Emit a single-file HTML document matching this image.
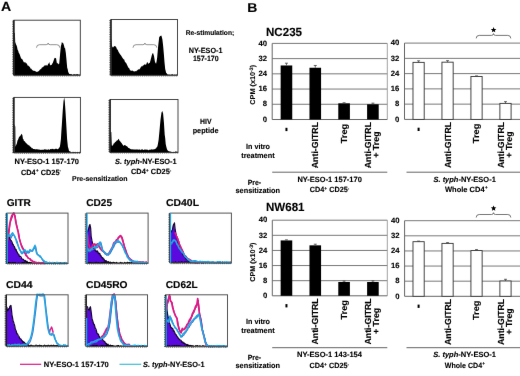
<!DOCTYPE html>
<html><head><meta charset="utf-8"><style>
html,body{margin:0;padding:0;background:#fff;width:520px;height:376px;overflow:hidden}
svg{display:block;will-change:transform;text-rendering:geometricPrecision}
text{font-family:"Liberation Sans", sans-serif;fill:#000;stroke:#000;stroke-width:0.12px}
</style></head><body>
<svg width="520" height="376" viewBox="0 0 520 376">
<defs><filter id="bl" x="0" y="0" width="520" height="376" filterUnits="userSpaceOnUse" color-interpolation-filters="sRGB"><feConvolveMatrix order="3" kernelMatrix="0.0016 0.0371 0.0016 0.0371 0.8450 0.0371 0.0016 0.0371 0.0016" edgeMode="duplicate"/></filter></defs>
<rect width="520" height="376" fill="#fff"/>
<g filter="url(#bl)">
<rect width="520" height="376" fill="#fff"/>
<text x="1.00" y="11.00" font-size="13.2" font-weight="bold" textLength="10.20" lengthAdjust="spacingAndGlyphs" >A</text>
<path d="M14.20,75.30 L14.20,32.72 L14.90,32.94 L15.20,42.14 L15.50,42.72 L16.00,44.51 L16.50,45.29 L17.05,46.89 L17.60,49.71 L18.20,50.71 L18.80,53.09 L19.30,53.61 L19.80,54.75 L20.50,56.68 L21.20,58.72 L21.90,58.65 L22.60,59.86 L23.30,61.20 L24.00,62.42 L24.70,62.17 L25.40,62.23 L26.10,63.86 L26.80,63.07 L27.50,65.42 L28.20,65.58 L28.90,66.13 L29.60,66.87 L30.10,67.61 L30.60,68.75 L31.10,68.40 L31.80,69.60 L32.50,70.36 L33.20,70.41 L33.90,70.95 L34.60,70.80 L35.30,71.16 L36.00,71.46 L36.70,72.07 L37.40,71.68 L38.10,71.42 L38.80,70.99 L39.50,70.15 L40.20,69.26 L40.90,69.17 L41.40,68.59 L41.90,67.52 L42.40,67.50 L43.10,66.69 L43.80,66.48 L44.33,65.99 L44.87,65.03 L45.40,65.87 L46.10,64.84 L46.80,65.67 L47.50,65.51 L48.20,63.84 L48.75,63.53 L49.30,61.96 L49.80,64.17 L50.30,65.52 L51.00,64.87 L51.70,65.00 L52.20,63.40 L52.70,63.31 L53.30,61.40 L53.90,59.63 L54.45,58.23 L55.00,57.64 L55.50,58.31 L56.00,58.06 L56.90,63.26 L57.50,62.85 L58.10,64.42 L58.65,63.79 L59.20,63.79 L59.70,58.57 L60.20,52.76 L60.90,45.92 L61.40,44.62 L61.90,41.84 L62.45,42.89 L63.00,42.77 L63.50,44.09 L64.00,45.39 L64.55,47.93 L65.10,48.31 L65.80,52.70 L66.50,60.03 L67.20,67.73 L67.70,69.15 L68.20,72.05 L68.75,72.89 L69.30,73.91 L69.83,74.03 L70.35,74.23 L70.88,73.96 L71.40,74.24 L71.91,74.23 L72.43,74.64 L72.94,74.72 L73.46,74.16 L73.97,74.21 L74.49,74.28 L75.00,74.31 L75.50,74.47 L76.00,74.52 L76.50,74.27 L77.00,74.06 L77.50,74.34 L78.00,74.28 L78.50,74.41 L79.00,74.67 L79.50,74.46 L80.00,74.31 L80.00,75.30 Z" fill="#000"/>
<rect x="14.00" y="20.20" width="66.30" height="55.10" fill="none" stroke="#333" stroke-width="0.9"/>
<line x1="13.80" y1="20.20" x2="13.80" y2="75.30" stroke="#111" stroke-width="1.3"/>
<line x1="12.20" y1="21.20" x2="14.00" y2="21.20" stroke="#222" stroke-width="0.7"/>
<line x1="12.20" y1="22.95" x2="14.00" y2="22.95" stroke="#222" stroke-width="0.7"/>
<line x1="12.20" y1="24.70" x2="14.00" y2="24.70" stroke="#222" stroke-width="0.7"/>
<line x1="12.20" y1="26.45" x2="14.00" y2="26.45" stroke="#222" stroke-width="0.7"/>
<line x1="12.20" y1="28.20" x2="14.00" y2="28.20" stroke="#222" stroke-width="0.7"/>
<line x1="12.20" y1="29.95" x2="14.00" y2="29.95" stroke="#222" stroke-width="0.7"/>
<line x1="12.20" y1="31.70" x2="14.00" y2="31.70" stroke="#222" stroke-width="0.7"/>
<line x1="12.20" y1="33.45" x2="14.00" y2="33.45" stroke="#222" stroke-width="0.7"/>
<line x1="12.20" y1="35.20" x2="14.00" y2="35.20" stroke="#222" stroke-width="0.7"/>
<line x1="12.20" y1="36.95" x2="14.00" y2="36.95" stroke="#222" stroke-width="0.7"/>
<line x1="12.20" y1="38.70" x2="14.00" y2="38.70" stroke="#222" stroke-width="0.7"/>
<line x1="12.20" y1="40.45" x2="14.00" y2="40.45" stroke="#222" stroke-width="0.7"/>
<line x1="12.20" y1="42.20" x2="14.00" y2="42.20" stroke="#222" stroke-width="0.7"/>
<line x1="12.20" y1="43.95" x2="14.00" y2="43.95" stroke="#222" stroke-width="0.7"/>
<line x1="12.20" y1="45.70" x2="14.00" y2="45.70" stroke="#222" stroke-width="0.7"/>
<line x1="12.20" y1="47.45" x2="14.00" y2="47.45" stroke="#222" stroke-width="0.7"/>
<line x1="12.20" y1="49.20" x2="14.00" y2="49.20" stroke="#222" stroke-width="0.7"/>
<line x1="12.20" y1="50.95" x2="14.00" y2="50.95" stroke="#222" stroke-width="0.7"/>
<line x1="12.20" y1="52.70" x2="14.00" y2="52.70" stroke="#222" stroke-width="0.7"/>
<line x1="12.20" y1="54.45" x2="14.00" y2="54.45" stroke="#222" stroke-width="0.7"/>
<line x1="12.20" y1="56.20" x2="14.00" y2="56.20" stroke="#222" stroke-width="0.7"/>
<line x1="12.20" y1="57.95" x2="14.00" y2="57.95" stroke="#222" stroke-width="0.7"/>
<line x1="12.20" y1="59.70" x2="14.00" y2="59.70" stroke="#222" stroke-width="0.7"/>
<line x1="12.20" y1="61.45" x2="14.00" y2="61.45" stroke="#222" stroke-width="0.7"/>
<line x1="12.20" y1="63.20" x2="14.00" y2="63.20" stroke="#222" stroke-width="0.7"/>
<line x1="12.20" y1="64.95" x2="14.00" y2="64.95" stroke="#222" stroke-width="0.7"/>
<line x1="12.20" y1="66.70" x2="14.00" y2="66.70" stroke="#222" stroke-width="0.7"/>
<line x1="12.20" y1="68.45" x2="14.00" y2="68.45" stroke="#222" stroke-width="0.7"/>
<line x1="12.20" y1="70.20" x2="14.00" y2="70.20" stroke="#222" stroke-width="0.7"/>
<line x1="12.20" y1="71.95" x2="14.00" y2="71.95" stroke="#222" stroke-width="0.7"/>
<line x1="12.20" y1="73.70" x2="14.00" y2="73.70" stroke="#222" stroke-width="0.7"/>
<line x1="15.00" y1="75.30" x2="15.00" y2="76.60" stroke="#333" stroke-width="0.6"/>
<line x1="16.90" y1="75.30" x2="16.90" y2="76.60" stroke="#333" stroke-width="0.6"/>
<line x1="18.80" y1="75.30" x2="18.80" y2="76.60" stroke="#333" stroke-width="0.6"/>
<line x1="20.70" y1="75.30" x2="20.70" y2="76.60" stroke="#333" stroke-width="0.6"/>
<line x1="22.60" y1="75.30" x2="22.60" y2="76.60" stroke="#333" stroke-width="0.6"/>
<line x1="24.50" y1="75.30" x2="24.50" y2="76.60" stroke="#333" stroke-width="0.6"/>
<line x1="26.40" y1="75.30" x2="26.40" y2="76.60" stroke="#333" stroke-width="0.6"/>
<line x1="28.30" y1="75.30" x2="28.30" y2="76.60" stroke="#333" stroke-width="0.6"/>
<line x1="30.20" y1="75.30" x2="30.20" y2="76.60" stroke="#333" stroke-width="0.6"/>
<line x1="32.10" y1="75.30" x2="32.10" y2="76.60" stroke="#333" stroke-width="0.6"/>
<line x1="34.00" y1="75.30" x2="34.00" y2="76.60" stroke="#333" stroke-width="0.6"/>
<line x1="35.90" y1="75.30" x2="35.90" y2="76.60" stroke="#333" stroke-width="0.6"/>
<line x1="37.80" y1="75.30" x2="37.80" y2="76.60" stroke="#333" stroke-width="0.6"/>
<line x1="39.70" y1="75.30" x2="39.70" y2="76.60" stroke="#333" stroke-width="0.6"/>
<line x1="41.60" y1="75.30" x2="41.60" y2="76.60" stroke="#333" stroke-width="0.6"/>
<line x1="43.50" y1="75.30" x2="43.50" y2="76.60" stroke="#333" stroke-width="0.6"/>
<line x1="45.40" y1="75.30" x2="45.40" y2="76.60" stroke="#333" stroke-width="0.6"/>
<line x1="47.30" y1="75.30" x2="47.30" y2="76.60" stroke="#333" stroke-width="0.6"/>
<line x1="49.20" y1="75.30" x2="49.20" y2="76.60" stroke="#333" stroke-width="0.6"/>
<line x1="51.10" y1="75.30" x2="51.10" y2="76.60" stroke="#333" stroke-width="0.6"/>
<line x1="53.00" y1="75.30" x2="53.00" y2="76.60" stroke="#333" stroke-width="0.6"/>
<line x1="54.90" y1="75.30" x2="54.90" y2="76.60" stroke="#333" stroke-width="0.6"/>
<line x1="56.80" y1="75.30" x2="56.80" y2="76.60" stroke="#333" stroke-width="0.6"/>
<line x1="58.70" y1="75.30" x2="58.70" y2="76.60" stroke="#333" stroke-width="0.6"/>
<line x1="60.60" y1="75.30" x2="60.60" y2="76.60" stroke="#333" stroke-width="0.6"/>
<line x1="62.50" y1="75.30" x2="62.50" y2="76.60" stroke="#333" stroke-width="0.6"/>
<line x1="64.40" y1="75.30" x2="64.40" y2="76.60" stroke="#333" stroke-width="0.6"/>
<line x1="66.30" y1="75.30" x2="66.30" y2="76.60" stroke="#333" stroke-width="0.6"/>
<line x1="68.20" y1="75.30" x2="68.20" y2="76.60" stroke="#333" stroke-width="0.6"/>
<line x1="70.10" y1="75.30" x2="70.10" y2="76.60" stroke="#333" stroke-width="0.6"/>
<line x1="72.00" y1="75.30" x2="72.00" y2="76.60" stroke="#333" stroke-width="0.6"/>
<line x1="73.90" y1="75.30" x2="73.90" y2="76.60" stroke="#333" stroke-width="0.6"/>
<line x1="75.80" y1="75.30" x2="75.80" y2="76.60" stroke="#333" stroke-width="0.6"/>
<line x1="77.70" y1="75.30" x2="77.70" y2="76.60" stroke="#333" stroke-width="0.6"/>
<line x1="79.60" y1="75.30" x2="79.60" y2="76.60" stroke="#333" stroke-width="0.6"/>
<path d="M36.50,47.70 Q36.50,44.70 39.50,44.70 L46.15,44.70 Q48.15,44.70 48.15,43.00 Q48.15,44.70 50.15,44.70 L56.80,44.70 Q59.80,44.70 59.80,47.70" fill="none" stroke="#777" stroke-width="0.8"/>
<path d="M111.30,75.30 L111.30,37.89 L112.20,47.78 L112.75,46.44 L113.30,47.44 L113.80,46.55 L114.30,46.00 L114.80,46.23 L115.30,45.93 L115.85,46.99 L116.40,47.57 L117.00,49.46 L117.60,49.60 L118.10,50.66 L118.60,51.93 L119.30,52.96 L120.00,54.34 L120.70,54.93 L121.40,55.90 L122.10,57.19 L122.80,58.16 L123.50,59.28 L124.20,59.44 L124.90,61.85 L125.60,62.48 L126.30,63.14 L127.00,64.70 L127.70,66.27 L128.40,67.72 L129.10,68.12 L129.80,69.72 L130.50,70.57 L131.20,70.66 L131.72,70.86 L132.25,70.62 L132.78,70.81 L133.30,71.24 L133.83,71.16 L134.35,71.73 L134.88,71.06 L135.40,70.92 L135.95,71.59 L136.50,70.88 L137.05,70.19 L137.60,70.35 L138.12,69.33 L138.65,69.48 L139.17,69.62 L139.70,69.07 L140.22,68.34 L140.75,67.22 L141.28,66.83 L141.80,66.01 L142.33,66.45 L142.87,65.62 L143.40,65.55 L144.10,64.63 L144.80,64.26 L145.50,64.70 L146.20,64.48 L146.75,63.06 L147.30,61.79 L147.80,63.01 L148.30,64.08 L149.00,62.91 L149.70,63.03 L150.40,60.67 L151.10,58.05 L151.60,55.94 L152.10,54.25 L153.00,52.71 L153.50,54.51 L154.00,56.03 L154.90,61.52 L155.50,63.00 L156.10,63.78 L156.65,60.93 L157.20,57.18 L157.70,51.30 L158.20,45.66 L158.70,41.41 L159.20,37.23 L159.75,36.60 L160.30,35.74 L160.85,35.89 L161.40,35.57 L161.90,37.59 L162.40,39.58 L163.10,45.44 L163.80,53.36 L164.50,62.26 L165.20,68.96 L165.70,71.02 L166.20,72.88 L166.75,73.34 L167.30,74.51 L167.86,74.22 L168.42,74.60 L168.98,74.76 L169.54,74.38 L170.10,74.43 L170.61,74.82 L171.13,74.66 L171.64,74.26 L172.16,74.23 L172.67,74.25 L173.19,74.79 L173.70,74.72 L174.21,74.25 L174.73,74.73 L175.24,74.84 L175.76,74.61 L176.27,74.39 L176.79,74.53 L177.30,74.24 L177.30,75.30 Z" fill="#000"/>
<rect x="111.10" y="19.50" width="66.40" height="55.80" fill="none" stroke="#333" stroke-width="0.9"/>
<line x1="110.90" y1="19.50" x2="110.90" y2="75.30" stroke="#111" stroke-width="1.3"/>
<line x1="109.30" y1="20.50" x2="111.10" y2="20.50" stroke="#222" stroke-width="0.7"/>
<line x1="109.30" y1="22.25" x2="111.10" y2="22.25" stroke="#222" stroke-width="0.7"/>
<line x1="109.30" y1="24.00" x2="111.10" y2="24.00" stroke="#222" stroke-width="0.7"/>
<line x1="109.30" y1="25.75" x2="111.10" y2="25.75" stroke="#222" stroke-width="0.7"/>
<line x1="109.30" y1="27.50" x2="111.10" y2="27.50" stroke="#222" stroke-width="0.7"/>
<line x1="109.30" y1="29.25" x2="111.10" y2="29.25" stroke="#222" stroke-width="0.7"/>
<line x1="109.30" y1="31.00" x2="111.10" y2="31.00" stroke="#222" stroke-width="0.7"/>
<line x1="109.30" y1="32.75" x2="111.10" y2="32.75" stroke="#222" stroke-width="0.7"/>
<line x1="109.30" y1="34.50" x2="111.10" y2="34.50" stroke="#222" stroke-width="0.7"/>
<line x1="109.30" y1="36.25" x2="111.10" y2="36.25" stroke="#222" stroke-width="0.7"/>
<line x1="109.30" y1="38.00" x2="111.10" y2="38.00" stroke="#222" stroke-width="0.7"/>
<line x1="109.30" y1="39.75" x2="111.10" y2="39.75" stroke="#222" stroke-width="0.7"/>
<line x1="109.30" y1="41.50" x2="111.10" y2="41.50" stroke="#222" stroke-width="0.7"/>
<line x1="109.30" y1="43.25" x2="111.10" y2="43.25" stroke="#222" stroke-width="0.7"/>
<line x1="109.30" y1="45.00" x2="111.10" y2="45.00" stroke="#222" stroke-width="0.7"/>
<line x1="109.30" y1="46.75" x2="111.10" y2="46.75" stroke="#222" stroke-width="0.7"/>
<line x1="109.30" y1="48.50" x2="111.10" y2="48.50" stroke="#222" stroke-width="0.7"/>
<line x1="109.30" y1="50.25" x2="111.10" y2="50.25" stroke="#222" stroke-width="0.7"/>
<line x1="109.30" y1="52.00" x2="111.10" y2="52.00" stroke="#222" stroke-width="0.7"/>
<line x1="109.30" y1="53.75" x2="111.10" y2="53.75" stroke="#222" stroke-width="0.7"/>
<line x1="109.30" y1="55.50" x2="111.10" y2="55.50" stroke="#222" stroke-width="0.7"/>
<line x1="109.30" y1="57.25" x2="111.10" y2="57.25" stroke="#222" stroke-width="0.7"/>
<line x1="109.30" y1="59.00" x2="111.10" y2="59.00" stroke="#222" stroke-width="0.7"/>
<line x1="109.30" y1="60.75" x2="111.10" y2="60.75" stroke="#222" stroke-width="0.7"/>
<line x1="109.30" y1="62.50" x2="111.10" y2="62.50" stroke="#222" stroke-width="0.7"/>
<line x1="109.30" y1="64.25" x2="111.10" y2="64.25" stroke="#222" stroke-width="0.7"/>
<line x1="109.30" y1="66.00" x2="111.10" y2="66.00" stroke="#222" stroke-width="0.7"/>
<line x1="109.30" y1="67.75" x2="111.10" y2="67.75" stroke="#222" stroke-width="0.7"/>
<line x1="109.30" y1="69.50" x2="111.10" y2="69.50" stroke="#222" stroke-width="0.7"/>
<line x1="109.30" y1="71.25" x2="111.10" y2="71.25" stroke="#222" stroke-width="0.7"/>
<line x1="109.30" y1="73.00" x2="111.10" y2="73.00" stroke="#222" stroke-width="0.7"/>
<line x1="109.30" y1="74.75" x2="111.10" y2="74.75" stroke="#222" stroke-width="0.7"/>
<line x1="112.10" y1="75.30" x2="112.10" y2="76.60" stroke="#333" stroke-width="0.6"/>
<line x1="114.00" y1="75.30" x2="114.00" y2="76.60" stroke="#333" stroke-width="0.6"/>
<line x1="115.90" y1="75.30" x2="115.90" y2="76.60" stroke="#333" stroke-width="0.6"/>
<line x1="117.80" y1="75.30" x2="117.80" y2="76.60" stroke="#333" stroke-width="0.6"/>
<line x1="119.70" y1="75.30" x2="119.70" y2="76.60" stroke="#333" stroke-width="0.6"/>
<line x1="121.60" y1="75.30" x2="121.60" y2="76.60" stroke="#333" stroke-width="0.6"/>
<line x1="123.50" y1="75.30" x2="123.50" y2="76.60" stroke="#333" stroke-width="0.6"/>
<line x1="125.40" y1="75.30" x2="125.40" y2="76.60" stroke="#333" stroke-width="0.6"/>
<line x1="127.30" y1="75.30" x2="127.30" y2="76.60" stroke="#333" stroke-width="0.6"/>
<line x1="129.20" y1="75.30" x2="129.20" y2="76.60" stroke="#333" stroke-width="0.6"/>
<line x1="131.10" y1="75.30" x2="131.10" y2="76.60" stroke="#333" stroke-width="0.6"/>
<line x1="133.00" y1="75.30" x2="133.00" y2="76.60" stroke="#333" stroke-width="0.6"/>
<line x1="134.90" y1="75.30" x2="134.90" y2="76.60" stroke="#333" stroke-width="0.6"/>
<line x1="136.80" y1="75.30" x2="136.80" y2="76.60" stroke="#333" stroke-width="0.6"/>
<line x1="138.70" y1="75.30" x2="138.70" y2="76.60" stroke="#333" stroke-width="0.6"/>
<line x1="140.60" y1="75.30" x2="140.60" y2="76.60" stroke="#333" stroke-width="0.6"/>
<line x1="142.50" y1="75.30" x2="142.50" y2="76.60" stroke="#333" stroke-width="0.6"/>
<line x1="144.40" y1="75.30" x2="144.40" y2="76.60" stroke="#333" stroke-width="0.6"/>
<line x1="146.30" y1="75.30" x2="146.30" y2="76.60" stroke="#333" stroke-width="0.6"/>
<line x1="148.20" y1="75.30" x2="148.20" y2="76.60" stroke="#333" stroke-width="0.6"/>
<line x1="150.10" y1="75.30" x2="150.10" y2="76.60" stroke="#333" stroke-width="0.6"/>
<line x1="152.00" y1="75.30" x2="152.00" y2="76.60" stroke="#333" stroke-width="0.6"/>
<line x1="153.90" y1="75.30" x2="153.90" y2="76.60" stroke="#333" stroke-width="0.6"/>
<line x1="155.80" y1="75.30" x2="155.80" y2="76.60" stroke="#333" stroke-width="0.6"/>
<line x1="157.70" y1="75.30" x2="157.70" y2="76.60" stroke="#333" stroke-width="0.6"/>
<line x1="159.60" y1="75.30" x2="159.60" y2="76.60" stroke="#333" stroke-width="0.6"/>
<line x1="161.50" y1="75.30" x2="161.50" y2="76.60" stroke="#333" stroke-width="0.6"/>
<line x1="163.40" y1="75.30" x2="163.40" y2="76.60" stroke="#333" stroke-width="0.6"/>
<line x1="165.30" y1="75.30" x2="165.30" y2="76.60" stroke="#333" stroke-width="0.6"/>
<line x1="167.20" y1="75.30" x2="167.20" y2="76.60" stroke="#333" stroke-width="0.6"/>
<line x1="169.10" y1="75.30" x2="169.10" y2="76.60" stroke="#333" stroke-width="0.6"/>
<line x1="171.00" y1="75.30" x2="171.00" y2="76.60" stroke="#333" stroke-width="0.6"/>
<line x1="172.90" y1="75.30" x2="172.90" y2="76.60" stroke="#333" stroke-width="0.6"/>
<line x1="174.80" y1="75.30" x2="174.80" y2="76.60" stroke="#333" stroke-width="0.6"/>
<line x1="176.70" y1="75.30" x2="176.70" y2="76.60" stroke="#333" stroke-width="0.6"/>
<path d="M133.00,47.70 Q133.00,44.70 136.00,44.70 L142.90,44.70 Q144.90,44.70 144.90,43.00 Q144.90,44.70 146.90,44.70 L153.80,44.70 Q156.80,44.70 156.80,47.70" fill="none" stroke="#777" stroke-width="0.8"/>
<path d="M14.40,152.70 L14.40,124.02 L15.30,126.75 L15.50,146.78 L16.40,144.54 L16.95,143.24 L17.50,140.49 L18.00,139.84 L18.50,138.42 L19.05,136.89 L19.60,136.40 L20.15,135.92 L20.70,135.28 L21.60,133.64 L22.40,135.31 L22.90,138.87 L23.45,139.21 L24.00,141.26 L24.53,140.93 L25.07,141.67 L25.60,142.43 L26.17,143.48 L26.73,143.24 L27.30,144.52 L27.83,144.44 L28.37,145.01 L28.90,145.53 L29.43,145.45 L29.97,146.56 L30.50,146.83 L31.07,147.00 L31.63,148.26 L32.20,147.95 L32.73,148.51 L33.27,149.00 L33.80,149.06 L34.35,148.90 L34.90,149.17 L35.45,149.28 L36.00,149.57 L36.55,148.97 L37.10,149.46 L37.65,149.21 L38.20,149.29 L38.75,149.78 L39.30,149.56 L39.85,149.63 L40.40,149.84 L40.92,150.03 L41.45,149.65 L41.98,149.85 L42.50,149.81 L43.05,149.69 L43.60,149.73 L44.15,149.38 L44.70,149.33 L45.35,149.33 L46.00,149.82 L46.54,149.59 L47.09,149.76 L47.63,149.82 L48.18,149.17 L48.72,149.46 L49.27,149.82 L49.81,149.73 L50.36,149.05 L50.90,149.04 L51.43,149.28 L51.97,148.85 L52.50,148.95 L53.03,148.71 L53.57,149.23 L54.10,149.28 L54.63,149.33 L55.17,148.52 L55.70,149.02 L56.20,148.96 L56.70,148.44 L57.20,149.19 L57.70,149.27 L58.20,148.52 L58.73,148.65 L59.27,147.42 L59.80,146.88 L60.35,143.63 L60.90,139.33 L61.40,130.96 L61.90,124.09 L62.70,111.22 L63.50,101.24 L64.20,97.41 L64.80,101.21 L65.50,111.56 L66.30,125.03 L67.10,138.89 L67.90,146.83 L68.45,148.42 L69.00,150.76 L69.53,151.30 L70.05,151.51 L70.57,151.48 L71.10,152.44 L71.60,152.30 L72.10,152.43 L72.60,151.82 L73.10,151.94 L73.60,151.78 L74.10,152.29 L74.60,151.94 L75.10,151.84 L75.60,152.05 L76.10,152.39 L76.60,152.32 L77.10,151.93 L77.60,151.86 L78.10,152.39 L78.60,152.15 L79.10,152.24 L79.60,151.81 L80.10,151.79 L80.10,152.70 Z" fill="#000"/>
<rect x="14.00" y="97.40" width="66.40" height="55.30" fill="none" stroke="#333" stroke-width="0.9"/>
<line x1="13.80" y1="97.40" x2="13.80" y2="152.70" stroke="#111" stroke-width="1.3"/>
<line x1="12.20" y1="98.40" x2="14.00" y2="98.40" stroke="#222" stroke-width="0.7"/>
<line x1="12.20" y1="100.15" x2="14.00" y2="100.15" stroke="#222" stroke-width="0.7"/>
<line x1="12.20" y1="101.90" x2="14.00" y2="101.90" stroke="#222" stroke-width="0.7"/>
<line x1="12.20" y1="103.65" x2="14.00" y2="103.65" stroke="#222" stroke-width="0.7"/>
<line x1="12.20" y1="105.40" x2="14.00" y2="105.40" stroke="#222" stroke-width="0.7"/>
<line x1="12.20" y1="107.15" x2="14.00" y2="107.15" stroke="#222" stroke-width="0.7"/>
<line x1="12.20" y1="108.90" x2="14.00" y2="108.90" stroke="#222" stroke-width="0.7"/>
<line x1="12.20" y1="110.65" x2="14.00" y2="110.65" stroke="#222" stroke-width="0.7"/>
<line x1="12.20" y1="112.40" x2="14.00" y2="112.40" stroke="#222" stroke-width="0.7"/>
<line x1="12.20" y1="114.15" x2="14.00" y2="114.15" stroke="#222" stroke-width="0.7"/>
<line x1="12.20" y1="115.90" x2="14.00" y2="115.90" stroke="#222" stroke-width="0.7"/>
<line x1="12.20" y1="117.65" x2="14.00" y2="117.65" stroke="#222" stroke-width="0.7"/>
<line x1="12.20" y1="119.40" x2="14.00" y2="119.40" stroke="#222" stroke-width="0.7"/>
<line x1="12.20" y1="121.15" x2="14.00" y2="121.15" stroke="#222" stroke-width="0.7"/>
<line x1="12.20" y1="122.90" x2="14.00" y2="122.90" stroke="#222" stroke-width="0.7"/>
<line x1="12.20" y1="124.65" x2="14.00" y2="124.65" stroke="#222" stroke-width="0.7"/>
<line x1="12.20" y1="126.40" x2="14.00" y2="126.40" stroke="#222" stroke-width="0.7"/>
<line x1="12.20" y1="128.15" x2="14.00" y2="128.15" stroke="#222" stroke-width="0.7"/>
<line x1="12.20" y1="129.90" x2="14.00" y2="129.90" stroke="#222" stroke-width="0.7"/>
<line x1="12.20" y1="131.65" x2="14.00" y2="131.65" stroke="#222" stroke-width="0.7"/>
<line x1="12.20" y1="133.40" x2="14.00" y2="133.40" stroke="#222" stroke-width="0.7"/>
<line x1="12.20" y1="135.15" x2="14.00" y2="135.15" stroke="#222" stroke-width="0.7"/>
<line x1="12.20" y1="136.90" x2="14.00" y2="136.90" stroke="#222" stroke-width="0.7"/>
<line x1="12.20" y1="138.65" x2="14.00" y2="138.65" stroke="#222" stroke-width="0.7"/>
<line x1="12.20" y1="140.40" x2="14.00" y2="140.40" stroke="#222" stroke-width="0.7"/>
<line x1="12.20" y1="142.15" x2="14.00" y2="142.15" stroke="#222" stroke-width="0.7"/>
<line x1="12.20" y1="143.90" x2="14.00" y2="143.90" stroke="#222" stroke-width="0.7"/>
<line x1="12.20" y1="145.65" x2="14.00" y2="145.65" stroke="#222" stroke-width="0.7"/>
<line x1="12.20" y1="147.40" x2="14.00" y2="147.40" stroke="#222" stroke-width="0.7"/>
<line x1="12.20" y1="149.15" x2="14.00" y2="149.15" stroke="#222" stroke-width="0.7"/>
<line x1="12.20" y1="150.90" x2="14.00" y2="150.90" stroke="#222" stroke-width="0.7"/>
<line x1="12.20" y1="152.65" x2="14.00" y2="152.65" stroke="#222" stroke-width="0.7"/>
<line x1="15.00" y1="152.70" x2="15.00" y2="154.00" stroke="#333" stroke-width="0.6"/>
<line x1="16.90" y1="152.70" x2="16.90" y2="154.00" stroke="#333" stroke-width="0.6"/>
<line x1="18.80" y1="152.70" x2="18.80" y2="154.00" stroke="#333" stroke-width="0.6"/>
<line x1="20.70" y1="152.70" x2="20.70" y2="154.00" stroke="#333" stroke-width="0.6"/>
<line x1="22.60" y1="152.70" x2="22.60" y2="154.00" stroke="#333" stroke-width="0.6"/>
<line x1="24.50" y1="152.70" x2="24.50" y2="154.00" stroke="#333" stroke-width="0.6"/>
<line x1="26.40" y1="152.70" x2="26.40" y2="154.00" stroke="#333" stroke-width="0.6"/>
<line x1="28.30" y1="152.70" x2="28.30" y2="154.00" stroke="#333" stroke-width="0.6"/>
<line x1="30.20" y1="152.70" x2="30.20" y2="154.00" stroke="#333" stroke-width="0.6"/>
<line x1="32.10" y1="152.70" x2="32.10" y2="154.00" stroke="#333" stroke-width="0.6"/>
<line x1="34.00" y1="152.70" x2="34.00" y2="154.00" stroke="#333" stroke-width="0.6"/>
<line x1="35.90" y1="152.70" x2="35.90" y2="154.00" stroke="#333" stroke-width="0.6"/>
<line x1="37.80" y1="152.70" x2="37.80" y2="154.00" stroke="#333" stroke-width="0.6"/>
<line x1="39.70" y1="152.70" x2="39.70" y2="154.00" stroke="#333" stroke-width="0.6"/>
<line x1="41.60" y1="152.70" x2="41.60" y2="154.00" stroke="#333" stroke-width="0.6"/>
<line x1="43.50" y1="152.70" x2="43.50" y2="154.00" stroke="#333" stroke-width="0.6"/>
<line x1="45.40" y1="152.70" x2="45.40" y2="154.00" stroke="#333" stroke-width="0.6"/>
<line x1="47.30" y1="152.70" x2="47.30" y2="154.00" stroke="#333" stroke-width="0.6"/>
<line x1="49.20" y1="152.70" x2="49.20" y2="154.00" stroke="#333" stroke-width="0.6"/>
<line x1="51.10" y1="152.70" x2="51.10" y2="154.00" stroke="#333" stroke-width="0.6"/>
<line x1="53.00" y1="152.70" x2="53.00" y2="154.00" stroke="#333" stroke-width="0.6"/>
<line x1="54.90" y1="152.70" x2="54.90" y2="154.00" stroke="#333" stroke-width="0.6"/>
<line x1="56.80" y1="152.70" x2="56.80" y2="154.00" stroke="#333" stroke-width="0.6"/>
<line x1="58.70" y1="152.70" x2="58.70" y2="154.00" stroke="#333" stroke-width="0.6"/>
<line x1="60.60" y1="152.70" x2="60.60" y2="154.00" stroke="#333" stroke-width="0.6"/>
<line x1="62.50" y1="152.70" x2="62.50" y2="154.00" stroke="#333" stroke-width="0.6"/>
<line x1="64.40" y1="152.70" x2="64.40" y2="154.00" stroke="#333" stroke-width="0.6"/>
<line x1="66.30" y1="152.70" x2="66.30" y2="154.00" stroke="#333" stroke-width="0.6"/>
<line x1="68.20" y1="152.70" x2="68.20" y2="154.00" stroke="#333" stroke-width="0.6"/>
<line x1="70.10" y1="152.70" x2="70.10" y2="154.00" stroke="#333" stroke-width="0.6"/>
<line x1="72.00" y1="152.70" x2="72.00" y2="154.00" stroke="#333" stroke-width="0.6"/>
<line x1="73.90" y1="152.70" x2="73.90" y2="154.00" stroke="#333" stroke-width="0.6"/>
<line x1="75.80" y1="152.70" x2="75.80" y2="154.00" stroke="#333" stroke-width="0.6"/>
<line x1="77.70" y1="152.70" x2="77.70" y2="154.00" stroke="#333" stroke-width="0.6"/>
<line x1="79.60" y1="152.70" x2="79.60" y2="154.00" stroke="#333" stroke-width="0.6"/>
<path d="M110.40,152.40 L110.40,131.70 L111.30,131.88 L111.80,145.57 L112.35,145.88 L112.90,144.69 L113.45,144.39 L114.00,142.77 L114.55,143.40 L115.10,141.61 L115.65,142.33 L116.20,141.13 L116.75,140.39 L117.30,140.18 L117.85,140.33 L118.40,138.83 L118.95,139.31 L119.50,140.64 L120.00,141.03 L120.50,141.68 L121.05,142.43 L121.60,142.93 L122.15,143.88 L122.70,144.75 L123.25,145.14 L123.80,146.13 L124.35,145.12 L124.90,145.00 L125.45,145.13 L126.00,145.91 L126.53,145.88 L127.07,146.54 L127.60,146.65 L128.15,147.86 L128.70,148.05 L129.25,148.08 L129.80,148.78 L130.35,149.35 L130.90,148.67 L131.45,149.48 L132.00,149.24 L132.55,149.35 L133.10,149.71 L133.65,149.35 L134.20,149.51 L134.75,149.60 L135.30,149.80 L135.85,149.13 L136.40,149.51 L136.93,149.54 L137.45,149.62 L137.97,149.56 L138.50,149.66 L139.05,149.46 L139.60,149.57 L140.15,149.57 L140.70,150.21 L141.35,149.58 L142.00,149.29 L142.50,149.24 L143.00,149.94 L143.50,149.98 L144.00,149.82 L144.50,149.48 L145.00,149.46 L145.50,149.52 L146.00,149.69 L146.50,149.43 L147.00,149.71 L147.50,149.56 L148.00,150.20 L148.50,150.22 L149.00,149.82 L149.50,149.53 L150.00,150.15 L150.50,149.54 L151.00,149.56 L151.50,149.21 L152.00,149.53 L152.50,149.59 L153.00,149.59 L153.50,149.30 L154.00,149.55 L154.50,149.07 L155.00,149.28 L155.60,148.47 L156.20,148.15 L156.80,147.12 L157.40,146.45 L158.00,143.46 L158.60,140.07 L159.50,130.84 L160.00,125.10 L160.50,119.80 L161.00,116.00 L161.50,112.45 L162.30,111.01 L163.10,113.52 L163.90,122.32 L164.70,134.78 L165.20,138.29 L165.70,144.03 L166.20,146.33 L166.70,148.14 L167.23,149.71 L167.77,150.53 L168.30,151.10 L168.88,151.34 L169.46,151.55 L170.04,151.22 L170.62,151.66 L171.20,151.80 L171.70,152.03 L172.20,152.01 L172.70,152.03 L173.20,151.86 L173.70,152.07 L174.20,151.93 L174.70,151.93 L175.20,151.61 L175.70,151.47 L176.20,151.54 L176.70,151.70 L177.20,151.52 L177.70,152.03 L177.70,152.40 Z" fill="#000"/>
<rect x="110.20" y="99.50" width="67.80" height="52.90" fill="none" stroke="#333" stroke-width="0.9"/>
<line x1="110.00" y1="99.50" x2="110.00" y2="152.40" stroke="#111" stroke-width="1.3"/>
<line x1="108.40" y1="100.50" x2="110.20" y2="100.50" stroke="#222" stroke-width="0.7"/>
<line x1="108.40" y1="102.25" x2="110.20" y2="102.25" stroke="#222" stroke-width="0.7"/>
<line x1="108.40" y1="104.00" x2="110.20" y2="104.00" stroke="#222" stroke-width="0.7"/>
<line x1="108.40" y1="105.75" x2="110.20" y2="105.75" stroke="#222" stroke-width="0.7"/>
<line x1="108.40" y1="107.50" x2="110.20" y2="107.50" stroke="#222" stroke-width="0.7"/>
<line x1="108.40" y1="109.25" x2="110.20" y2="109.25" stroke="#222" stroke-width="0.7"/>
<line x1="108.40" y1="111.00" x2="110.20" y2="111.00" stroke="#222" stroke-width="0.7"/>
<line x1="108.40" y1="112.75" x2="110.20" y2="112.75" stroke="#222" stroke-width="0.7"/>
<line x1="108.40" y1="114.50" x2="110.20" y2="114.50" stroke="#222" stroke-width="0.7"/>
<line x1="108.40" y1="116.25" x2="110.20" y2="116.25" stroke="#222" stroke-width="0.7"/>
<line x1="108.40" y1="118.00" x2="110.20" y2="118.00" stroke="#222" stroke-width="0.7"/>
<line x1="108.40" y1="119.75" x2="110.20" y2="119.75" stroke="#222" stroke-width="0.7"/>
<line x1="108.40" y1="121.50" x2="110.20" y2="121.50" stroke="#222" stroke-width="0.7"/>
<line x1="108.40" y1="123.25" x2="110.20" y2="123.25" stroke="#222" stroke-width="0.7"/>
<line x1="108.40" y1="125.00" x2="110.20" y2="125.00" stroke="#222" stroke-width="0.7"/>
<line x1="108.40" y1="126.75" x2="110.20" y2="126.75" stroke="#222" stroke-width="0.7"/>
<line x1="108.40" y1="128.50" x2="110.20" y2="128.50" stroke="#222" stroke-width="0.7"/>
<line x1="108.40" y1="130.25" x2="110.20" y2="130.25" stroke="#222" stroke-width="0.7"/>
<line x1="108.40" y1="132.00" x2="110.20" y2="132.00" stroke="#222" stroke-width="0.7"/>
<line x1="108.40" y1="133.75" x2="110.20" y2="133.75" stroke="#222" stroke-width="0.7"/>
<line x1="108.40" y1="135.50" x2="110.20" y2="135.50" stroke="#222" stroke-width="0.7"/>
<line x1="108.40" y1="137.25" x2="110.20" y2="137.25" stroke="#222" stroke-width="0.7"/>
<line x1="108.40" y1="139.00" x2="110.20" y2="139.00" stroke="#222" stroke-width="0.7"/>
<line x1="108.40" y1="140.75" x2="110.20" y2="140.75" stroke="#222" stroke-width="0.7"/>
<line x1="108.40" y1="142.50" x2="110.20" y2="142.50" stroke="#222" stroke-width="0.7"/>
<line x1="108.40" y1="144.25" x2="110.20" y2="144.25" stroke="#222" stroke-width="0.7"/>
<line x1="108.40" y1="146.00" x2="110.20" y2="146.00" stroke="#222" stroke-width="0.7"/>
<line x1="108.40" y1="147.75" x2="110.20" y2="147.75" stroke="#222" stroke-width="0.7"/>
<line x1="108.40" y1="149.50" x2="110.20" y2="149.50" stroke="#222" stroke-width="0.7"/>
<line x1="108.40" y1="151.25" x2="110.20" y2="151.25" stroke="#222" stroke-width="0.7"/>
<line x1="111.20" y1="152.40" x2="111.20" y2="153.70" stroke="#333" stroke-width="0.6"/>
<line x1="113.10" y1="152.40" x2="113.10" y2="153.70" stroke="#333" stroke-width="0.6"/>
<line x1="115.00" y1="152.40" x2="115.00" y2="153.70" stroke="#333" stroke-width="0.6"/>
<line x1="116.90" y1="152.40" x2="116.90" y2="153.70" stroke="#333" stroke-width="0.6"/>
<line x1="118.80" y1="152.40" x2="118.80" y2="153.70" stroke="#333" stroke-width="0.6"/>
<line x1="120.70" y1="152.40" x2="120.70" y2="153.70" stroke="#333" stroke-width="0.6"/>
<line x1="122.60" y1="152.40" x2="122.60" y2="153.70" stroke="#333" stroke-width="0.6"/>
<line x1="124.50" y1="152.40" x2="124.50" y2="153.70" stroke="#333" stroke-width="0.6"/>
<line x1="126.40" y1="152.40" x2="126.40" y2="153.70" stroke="#333" stroke-width="0.6"/>
<line x1="128.30" y1="152.40" x2="128.30" y2="153.70" stroke="#333" stroke-width="0.6"/>
<line x1="130.20" y1="152.40" x2="130.20" y2="153.70" stroke="#333" stroke-width="0.6"/>
<line x1="132.10" y1="152.40" x2="132.10" y2="153.70" stroke="#333" stroke-width="0.6"/>
<line x1="134.00" y1="152.40" x2="134.00" y2="153.70" stroke="#333" stroke-width="0.6"/>
<line x1="135.90" y1="152.40" x2="135.90" y2="153.70" stroke="#333" stroke-width="0.6"/>
<line x1="137.80" y1="152.40" x2="137.80" y2="153.70" stroke="#333" stroke-width="0.6"/>
<line x1="139.70" y1="152.40" x2="139.70" y2="153.70" stroke="#333" stroke-width="0.6"/>
<line x1="141.60" y1="152.40" x2="141.60" y2="153.70" stroke="#333" stroke-width="0.6"/>
<line x1="143.50" y1="152.40" x2="143.50" y2="153.70" stroke="#333" stroke-width="0.6"/>
<line x1="145.40" y1="152.40" x2="145.40" y2="153.70" stroke="#333" stroke-width="0.6"/>
<line x1="147.30" y1="152.40" x2="147.30" y2="153.70" stroke="#333" stroke-width="0.6"/>
<line x1="149.20" y1="152.40" x2="149.20" y2="153.70" stroke="#333" stroke-width="0.6"/>
<line x1="151.10" y1="152.40" x2="151.10" y2="153.70" stroke="#333" stroke-width="0.6"/>
<line x1="153.00" y1="152.40" x2="153.00" y2="153.70" stroke="#333" stroke-width="0.6"/>
<line x1="154.90" y1="152.40" x2="154.90" y2="153.70" stroke="#333" stroke-width="0.6"/>
<line x1="156.80" y1="152.40" x2="156.80" y2="153.70" stroke="#333" stroke-width="0.6"/>
<line x1="158.70" y1="152.40" x2="158.70" y2="153.70" stroke="#333" stroke-width="0.6"/>
<line x1="160.60" y1="152.40" x2="160.60" y2="153.70" stroke="#333" stroke-width="0.6"/>
<line x1="162.50" y1="152.40" x2="162.50" y2="153.70" stroke="#333" stroke-width="0.6"/>
<line x1="164.40" y1="152.40" x2="164.40" y2="153.70" stroke="#333" stroke-width="0.6"/>
<line x1="166.30" y1="152.40" x2="166.30" y2="153.70" stroke="#333" stroke-width="0.6"/>
<line x1="168.20" y1="152.40" x2="168.20" y2="153.70" stroke="#333" stroke-width="0.6"/>
<line x1="170.10" y1="152.40" x2="170.10" y2="153.70" stroke="#333" stroke-width="0.6"/>
<line x1="172.00" y1="152.40" x2="172.00" y2="153.70" stroke="#333" stroke-width="0.6"/>
<line x1="173.90" y1="152.40" x2="173.90" y2="153.70" stroke="#333" stroke-width="0.6"/>
<line x1="175.80" y1="152.40" x2="175.80" y2="153.70" stroke="#333" stroke-width="0.6"/>
<line x1="177.70" y1="152.40" x2="177.70" y2="153.70" stroke="#333" stroke-width="0.6"/>
<text x="185.80" y="35.20" font-size="6.9" font-weight="bold" textLength="48.40" lengthAdjust="spacingAndGlyphs" >Re-stimulation;</text>
<text x="188.70" y="52.70" font-size="7.5" font-weight="bold" textLength="33.80" lengthAdjust="spacingAndGlyphs" >NY-ESO-1</text>
<text x="192.90" y="61.00" font-size="7.5" font-weight="bold" textLength="25.80" lengthAdjust="spacingAndGlyphs" >157-170</text>
<text x="200.00" y="124.40" font-size="7.6" font-weight="bold" textLength="11.50" lengthAdjust="spacingAndGlyphs" >HIV</text>
<text x="192.70" y="133.20" font-size="7.5" font-weight="bold" textLength="25.80" lengthAdjust="spacingAndGlyphs" >peptide</text>
<text x="14.50" y="164.00" font-size="7.5" font-weight="bold" textLength="64.50" lengthAdjust="spacingAndGlyphs" >NY-ESO-1 157-170</text>
<text x="21.00" y="174.50" font-size="7.5" font-weight="bold" textLength="40.00" lengthAdjust="spacingAndGlyphs" >CD4<tspan dy="-2.5" font-size="5.2">+</tspan><tspan dy="2.5"> CD25</tspan><tspan dy="-2.5" font-size="4.5">-</tspan></text>
<text x="72.00" y="180.50" font-size="7.0" font-weight="bold" textLength="55.50" lengthAdjust="spacingAndGlyphs" >Pre-sensitization</text>
<text x="115.00" y="164.20" font-size="7.5" font-weight="bold" textLength="61.70" lengthAdjust="spacingAndGlyphs" ><tspan font-style="italic">S. typh</tspan>-NY-ESO-1</text>
<text x="131.00" y="174.40" font-size="7.5" font-weight="bold" textLength="40.30" lengthAdjust="spacingAndGlyphs" >CD4<tspan dy="-2.5" font-size="5.2">+</tspan><tspan dy="2.5"> CD25</tspan><tspan dy="-2.5" font-size="4.5">-</tspan></text>
<text x="6.70" y="205.60" font-size="10" font-weight="bold" textLength="24.20" lengthAdjust="spacingAndGlyphs" >GITR</text>
<path d="M7.20,263.50 L7.20,229.05 L7.80,233.10 L8.30,235.40 L8.93,236.68 L9.57,237.76 L10.20,238.60 L10.75,240.36 L11.30,241.45 L11.85,242.38 L12.40,243.53 L12.97,244.73 L13.55,245.35 L14.12,246.99 L14.70,247.70 L15.25,248.48 L15.80,249.56 L16.35,250.86 L16.90,251.36 L17.45,252.74 L18.00,253.88 L18.55,254.45 L19.10,255.32 L19.68,256.11 L20.25,256.97 L20.82,257.74 L21.40,258.37 L21.98,258.84 L22.56,259.00 L23.14,259.50 L23.72,260.02 L24.30,260.71 L24.80,260.70 L25.30,261.01 L25.80,260.96 L26.30,261.17 L26.80,261.45 L27.30,261.80 L27.80,262.00 L28.30,262.18 L28.80,262.22 L29.33,262.46 L29.87,262.59 L30.40,262.74 L30.93,262.77 L31.47,263.18 L32.00,263.10 L32.00,263.50 Z" fill="#5a0ade"/>
<path d="M7.45,230.07 L8.05,234.00 L8.55,234.83 L9.18,236.77 L9.82,238.58 L10.45,240.05 L11.00,240.34 L11.55,241.18 L12.10,242.21 L12.65,244.51 L13.22,244.44 L13.80,246.13 L14.38,246.53 L14.95,248.24 L15.50,249.85 L16.05,249.46 L16.60,251.49 L17.15,251.91 L17.70,253.47 L18.25,254.13 L18.80,254.32 L19.35,256.34 L19.93,256.40 L20.50,256.39 L21.07,257.08 L21.65,258.59 L22.23,258.98 L22.81,259.20 L23.39,259.41 L23.97,260.19 L24.55,260.61 L25.05,261.63 L25.55,260.48 L26.05,261.87 L26.55,262.20 L27.05,261.24 L27.55,262.72 L28.05,262.56 L28.55,263.05 L29.05,262.26 L29.58,262.55 L30.12,262.73 L30.65,263.50 L31.18,263.34 L31.72,263.13 L32.25,263.38" fill="none" stroke="#160630" stroke-width="1.2" stroke-linejoin="round"/>
<path d="M7.40,262.78 L8.21,262.55 L9.02,262.60 L9.84,263.33 L10.65,262.77 L11.46,263.42 L12.27,262.73 L13.09,262.75 L13.90,262.99 L14.71,262.67 L15.52,262.85 L16.33,263.43 L17.15,263.35 L17.96,263.28 L18.77,263.09 L19.58,263.37 L20.39,263.40 L21.21,263.00 L22.02,263.17 L22.83,262.50 L23.64,263.18 L24.46,262.89 L25.27,263.19 L26.08,263.08 L26.89,262.72 L27.70,262.48 L28.52,263.36 L29.33,262.55 L30.14,262.90 L30.95,262.77 L31.76,262.72 L32.58,263.16 L33.39,263.39 L34.20,262.67 L35.01,263.06 L35.83,262.71 L36.64,262.96 L37.45,262.79 L38.26,262.57 L39.07,262.57 L39.89,262.62 L40.70,263.32 L41.51,262.91 L42.32,262.64 L43.14,263.33 L43.95,263.42 L44.76,262.87 L45.57,262.57 L46.38,262.62 L47.20,262.52 L48.01,262.78 L48.82,262.53 L49.63,262.68 L50.44,262.70 L51.26,263.02 L52.07,263.34 L52.88,263.20 L53.69,262.87 L54.51,262.87 L55.32,262.98 L56.13,262.84 L56.94,262.80 L57.75,262.53 L58.57,262.75 L59.38,263.44 L60.19,262.60 L61.00,262.98 L61.81,263.11 L62.63,263.35 L63.44,262.70 L64.25,262.76 L65.06,262.74 L65.88,262.89 L66.69,262.94 L67.50,263.45" fill="none" stroke="#000" stroke-width="1.1" stroke-linejoin="round"/>
<path d="M7.90,241.09 L9.00,233.42 L10.20,223.33 L10.90,220.75 L11.60,219.09 L12.35,217.10 L13.10,214.26 L14.20,213.32 L15.20,215.90 L16.40,223.85 L17.60,229.00 L18.60,232.66 L19.70,239.40 L20.90,243.96 L22.00,245.95 L23.10,247.95 L23.85,249.87 L24.60,252.23 L25.35,253.95 L26.10,255.82 L26.83,256.41 L27.57,257.21 L28.30,258.27 L29.05,258.47 L29.80,259.22 L30.55,259.13 L31.30,260.80 L32.40,260.83 L33.30,262.49 L34.20,262.80 L35.00,262.53 L35.80,262.48 L36.60,262.85 L37.40,263.50 L38.20,263.50 L38.93,263.09 L39.66,263.06 L40.39,263.50 L41.12,263.50 L41.85,263.50 L42.58,263.39 L43.31,263.50 L44.04,263.15 L44.77,263.50 L45.50,263.50" fill="none" stroke="#b01070" stroke-width="1.0" stroke-linejoin="round"/>
<path d="M7.40,240.64 L8.50,232.50 L9.70,223.94 L10.40,220.77 L11.10,217.83 L11.85,215.60 L12.60,214.34 L13.70,212.89 L14.70,215.73 L15.90,222.73 L17.10,227.80 L18.10,231.84 L19.20,238.19 L20.40,242.36 L21.50,245.93 L22.60,248.50 L23.35,249.37 L24.10,250.95 L24.85,252.87 L25.60,254.49 L26.33,255.76 L27.07,255.98 L27.80,257.72 L28.55,258.26 L29.30,258.56 L30.05,258.76 L30.80,260.46 L31.90,260.34 L32.80,261.75 L33.70,261.62 L34.50,261.81 L35.30,262.76 L36.10,262.31 L36.90,263.43 L37.70,262.99 L38.43,262.59 L39.16,262.67 L39.89,262.97 L40.62,263.35 L41.35,263.50 L42.08,262.68 L42.81,263.06 L43.54,262.84 L44.27,263.50 L45.00,262.80" fill="none" stroke="#dc1a86" stroke-width="1.7" stroke-linejoin="round"/>
<path d="M8.10,236.17 L8.90,236.18 L9.90,235.15 L10.90,238.16 L12.10,235.84 L13.30,234.13 L14.50,236.00 L15.40,238.20 L16.60,240.26 L17.35,242.31 L18.10,245.61 L18.85,247.59 L19.60,248.84 L20.35,250.83 L21.10,251.53 L21.80,252.62 L22.50,253.66 L23.25,252.69 L24.00,251.70 L24.75,251.34 L25.50,250.69 L26.70,253.84 L27.70,251.17 L28.45,253.10 L29.20,252.79 L29.95,251.50 L30.70,250.65 L31.65,251.25 L32.60,251.31 L33.55,249.32 L34.50,248.46 L35.70,246.42 L36.40,250.49 L37.40,254.27 L38.80,255.51 L39.55,256.71 L40.30,255.94 L41.70,258.48 L43.10,260.94 L44.10,261.82 L45.10,261.76 L45.80,261.97 L46.50,262.24 L47.20,263.50 L47.90,262.96 L48.70,263.50 L49.50,263.50 L50.30,263.32 L51.10,263.31 L51.90,263.50 L52.70,263.50 L53.40,263.48 L54.11,263.50 L54.81,263.50 L55.52,263.50 L56.22,263.15 L56.93,263.50 L57.63,263.50 L58.34,263.50 L59.04,263.50 L59.75,263.22 L60.45,263.50 L61.15,263.50 L61.86,263.50 L62.56,263.50 L63.27,263.50 L63.97,263.50 L64.68,263.50 L65.38,263.50 L66.09,263.50 L66.79,263.50 L67.50,263.50 L68.20,263.50" fill="none" stroke="#3a70cc" stroke-width="1.1" stroke-linejoin="round"/>
<path d="M7.40,236.45 L8.20,236.38 L9.20,234.65 L10.20,236.56 L11.40,234.25 L12.60,232.81 L13.80,234.90 L14.70,236.21 L15.90,239.28 L16.65,242.30 L17.40,243.85 L18.15,245.84 L18.90,248.05 L19.65,249.87 L20.40,250.66 L21.10,252.67 L21.80,253.64 L22.55,253.03 L23.30,251.27 L24.05,250.27 L24.80,249.53 L26.00,252.40 L27.00,251.19 L27.75,251.58 L28.50,252.03 L29.25,250.78 L30.00,249.57 L30.95,250.24 L31.90,250.95 L32.85,249.64 L33.80,247.93 L35.00,245.27 L35.70,249.58 L36.70,253.61 L38.10,254.99 L38.85,255.17 L39.60,256.13 L41.00,257.38 L42.40,259.35 L43.40,260.29 L44.40,261.11 L45.10,262.36 L45.80,262.16 L46.50,262.03 L47.20,262.35 L48.00,263.27 L48.80,262.68 L49.60,262.37 L50.40,263.27 L51.20,263.13 L52.00,263.50 L52.70,262.45 L53.41,262.98 L54.11,263.47 L54.82,263.50 L55.52,263.50 L56.23,262.41 L56.93,262.77 L57.64,262.54 L58.34,262.65 L59.05,263.50 L59.75,263.22 L60.45,263.50 L61.16,262.94 L61.86,263.50 L62.57,263.07 L63.27,262.81 L63.98,263.50 L64.68,263.50 L65.39,262.62 L66.09,263.32 L66.80,263.36 L67.50,262.80" fill="none" stroke="#22a6e2" stroke-width="1.5" stroke-linejoin="round"/>
<rect x="6.90" y="213.10" width="61.10" height="50.40" fill="none" stroke="#555" stroke-width="1.0"/>
<line x1="6.70" y1="213.10" x2="6.70" y2="263.50" stroke="#111" stroke-width="1.3"/>
<line x1="5.10" y1="214.10" x2="6.90" y2="214.10" stroke="#222" stroke-width="0.7"/>
<line x1="5.10" y1="215.85" x2="6.90" y2="215.85" stroke="#222" stroke-width="0.7"/>
<line x1="5.10" y1="217.60" x2="6.90" y2="217.60" stroke="#222" stroke-width="0.7"/>
<line x1="5.10" y1="219.35" x2="6.90" y2="219.35" stroke="#222" stroke-width="0.7"/>
<line x1="5.10" y1="221.10" x2="6.90" y2="221.10" stroke="#222" stroke-width="0.7"/>
<line x1="5.10" y1="222.85" x2="6.90" y2="222.85" stroke="#222" stroke-width="0.7"/>
<line x1="5.10" y1="224.60" x2="6.90" y2="224.60" stroke="#222" stroke-width="0.7"/>
<line x1="5.10" y1="226.35" x2="6.90" y2="226.35" stroke="#222" stroke-width="0.7"/>
<line x1="5.10" y1="228.10" x2="6.90" y2="228.10" stroke="#222" stroke-width="0.7"/>
<line x1="5.10" y1="229.85" x2="6.90" y2="229.85" stroke="#222" stroke-width="0.7"/>
<line x1="5.10" y1="231.60" x2="6.90" y2="231.60" stroke="#222" stroke-width="0.7"/>
<line x1="5.10" y1="233.35" x2="6.90" y2="233.35" stroke="#222" stroke-width="0.7"/>
<line x1="5.10" y1="235.10" x2="6.90" y2="235.10" stroke="#222" stroke-width="0.7"/>
<line x1="5.10" y1="236.85" x2="6.90" y2="236.85" stroke="#222" stroke-width="0.7"/>
<line x1="5.10" y1="238.60" x2="6.90" y2="238.60" stroke="#222" stroke-width="0.7"/>
<line x1="5.10" y1="240.35" x2="6.90" y2="240.35" stroke="#222" stroke-width="0.7"/>
<line x1="5.10" y1="242.10" x2="6.90" y2="242.10" stroke="#222" stroke-width="0.7"/>
<line x1="5.10" y1="243.85" x2="6.90" y2="243.85" stroke="#222" stroke-width="0.7"/>
<line x1="5.10" y1="245.60" x2="6.90" y2="245.60" stroke="#222" stroke-width="0.7"/>
<line x1="5.10" y1="247.35" x2="6.90" y2="247.35" stroke="#222" stroke-width="0.7"/>
<line x1="5.10" y1="249.10" x2="6.90" y2="249.10" stroke="#222" stroke-width="0.7"/>
<line x1="5.10" y1="250.85" x2="6.90" y2="250.85" stroke="#222" stroke-width="0.7"/>
<line x1="5.10" y1="252.60" x2="6.90" y2="252.60" stroke="#222" stroke-width="0.7"/>
<line x1="5.10" y1="254.35" x2="6.90" y2="254.35" stroke="#222" stroke-width="0.7"/>
<line x1="5.10" y1="256.10" x2="6.90" y2="256.10" stroke="#222" stroke-width="0.7"/>
<line x1="5.10" y1="257.85" x2="6.90" y2="257.85" stroke="#222" stroke-width="0.7"/>
<line x1="5.10" y1="259.60" x2="6.90" y2="259.60" stroke="#222" stroke-width="0.7"/>
<line x1="5.10" y1="261.35" x2="6.90" y2="261.35" stroke="#222" stroke-width="0.7"/>
<line x1="5.10" y1="263.10" x2="6.90" y2="263.10" stroke="#222" stroke-width="0.7"/>
<line x1="7.90" y1="263.50" x2="7.90" y2="264.80" stroke="#333" stroke-width="0.6"/>
<line x1="9.80" y1="263.50" x2="9.80" y2="264.80" stroke="#333" stroke-width="0.6"/>
<line x1="11.70" y1="263.50" x2="11.70" y2="264.80" stroke="#333" stroke-width="0.6"/>
<line x1="13.60" y1="263.50" x2="13.60" y2="264.80" stroke="#333" stroke-width="0.6"/>
<line x1="15.50" y1="263.50" x2="15.50" y2="264.80" stroke="#333" stroke-width="0.6"/>
<line x1="17.40" y1="263.50" x2="17.40" y2="264.80" stroke="#333" stroke-width="0.6"/>
<line x1="19.30" y1="263.50" x2="19.30" y2="264.80" stroke="#333" stroke-width="0.6"/>
<line x1="21.20" y1="263.50" x2="21.20" y2="264.80" stroke="#333" stroke-width="0.6"/>
<line x1="23.10" y1="263.50" x2="23.10" y2="264.80" stroke="#333" stroke-width="0.6"/>
<line x1="25.00" y1="263.50" x2="25.00" y2="264.80" stroke="#333" stroke-width="0.6"/>
<line x1="26.90" y1="263.50" x2="26.90" y2="264.80" stroke="#333" stroke-width="0.6"/>
<line x1="28.80" y1="263.50" x2="28.80" y2="264.80" stroke="#333" stroke-width="0.6"/>
<line x1="30.70" y1="263.50" x2="30.70" y2="264.80" stroke="#333" stroke-width="0.6"/>
<line x1="32.60" y1="263.50" x2="32.60" y2="264.80" stroke="#333" stroke-width="0.6"/>
<line x1="34.50" y1="263.50" x2="34.50" y2="264.80" stroke="#333" stroke-width="0.6"/>
<line x1="36.40" y1="263.50" x2="36.40" y2="264.80" stroke="#333" stroke-width="0.6"/>
<line x1="38.30" y1="263.50" x2="38.30" y2="264.80" stroke="#333" stroke-width="0.6"/>
<line x1="40.20" y1="263.50" x2="40.20" y2="264.80" stroke="#333" stroke-width="0.6"/>
<line x1="42.10" y1="263.50" x2="42.10" y2="264.80" stroke="#333" stroke-width="0.6"/>
<line x1="44.00" y1="263.50" x2="44.00" y2="264.80" stroke="#333" stroke-width="0.6"/>
<line x1="45.90" y1="263.50" x2="45.90" y2="264.80" stroke="#333" stroke-width="0.6"/>
<line x1="47.80" y1="263.50" x2="47.80" y2="264.80" stroke="#333" stroke-width="0.6"/>
<line x1="49.70" y1="263.50" x2="49.70" y2="264.80" stroke="#333" stroke-width="0.6"/>
<line x1="51.60" y1="263.50" x2="51.60" y2="264.80" stroke="#333" stroke-width="0.6"/>
<line x1="53.50" y1="263.50" x2="53.50" y2="264.80" stroke="#333" stroke-width="0.6"/>
<line x1="55.40" y1="263.50" x2="55.40" y2="264.80" stroke="#333" stroke-width="0.6"/>
<line x1="57.30" y1="263.50" x2="57.30" y2="264.80" stroke="#333" stroke-width="0.6"/>
<line x1="59.20" y1="263.50" x2="59.20" y2="264.80" stroke="#333" stroke-width="0.6"/>
<line x1="61.10" y1="263.50" x2="61.10" y2="264.80" stroke="#333" stroke-width="0.6"/>
<line x1="63.00" y1="263.50" x2="63.00" y2="264.80" stroke="#333" stroke-width="0.6"/>
<line x1="64.90" y1="263.50" x2="64.90" y2="264.80" stroke="#333" stroke-width="0.6"/>
<line x1="66.80" y1="263.50" x2="66.80" y2="264.80" stroke="#333" stroke-width="0.6"/>
<line x1="7.20" y1="213" x2="7.20" y2="263.5" stroke="#22a6e2" stroke-width="1.3"/>
<text x="86.30" y="205.60" font-size="10" font-weight="bold" textLength="25.80" lengthAdjust="spacingAndGlyphs" >CD25</text>
<path d="M87.10,263.30 L87.10,231.89 L87.80,229.61 L88.50,227.56 L89.10,225.75 L89.70,224.18 L90.40,228.12 L90.90,235.76 L91.70,240.61 L92.60,244.86 L93.50,248.14 L94.00,248.41 L94.50,249.18 L95.00,249.76 L95.60,250.57 L96.20,250.71 L96.80,250.65 L97.37,251.18 L97.93,251.92 L98.50,252.54 L99.00,253.28 L99.50,253.52 L100.00,254.25 L100.50,255.31 L101.00,255.77 L101.50,256.36 L102.00,257.05 L102.50,258.10 L103.00,258.40 L103.50,259.04 L104.00,259.43 L104.50,259.96 L105.00,260.67 L105.50,260.97 L106.00,260.94 L106.50,261.12 L107.00,261.59 L107.50,261.63 L108.00,261.81 L108.50,262.29 L109.00,262.25 L109.50,262.53 L110.00,262.52 L110.50,262.82 L111.00,262.81 L111.50,262.85 L112.00,262.94 L112.00,263.30 Z" fill="#5a0ade"/>
<path d="M87.35,232.38 L88.05,230.43 L88.75,228.76 L89.35,225.59 L89.95,224.60 L90.65,228.09 L91.15,236.31 L91.95,240.73 L92.85,244.95 L93.75,248.33 L94.25,249.65 L94.75,249.01 L95.25,250.28 L95.85,251.12 L96.45,251.71 L97.05,250.82 L97.62,251.20 L98.18,253.01 L98.75,253.56 L99.25,253.44 L99.75,253.42 L100.25,255.48 L100.75,255.29 L101.25,256.78 L101.75,256.99 L102.25,257.99 L102.75,257.59 L103.25,259.26 L103.75,258.86 L104.25,259.65 L104.75,260.85 L105.25,261.33 L105.75,260.54 L106.25,260.85 L106.75,261.39 L107.25,261.83 L107.75,261.86 L108.25,261.70 L108.75,262.03 L109.25,262.93 L109.75,263.30 L110.25,262.12 L110.75,263.09 L111.25,263.30 L111.75,262.52 L112.25,263.30" fill="none" stroke="#160630" stroke-width="1.2" stroke-linejoin="round"/>
<path d="M87.10,262.42 L87.92,262.90 L88.74,262.84 L89.55,262.92 L90.37,262.60 L91.19,262.71 L92.01,262.87 L92.82,262.71 L93.64,262.94 L94.46,262.72 L95.28,262.71 L96.09,262.29 L96.91,262.89 L97.73,262.75 L98.55,262.50 L99.36,263.02 L100.18,263.04 L101.00,262.71 L101.82,262.43 L102.63,262.72 L103.45,262.35 L104.27,262.37 L105.09,262.67 L105.90,262.33 L106.72,262.68 L107.54,262.74 L108.36,262.27 L109.17,262.86 L109.99,262.31 L110.81,262.96 L111.63,263.00 L112.44,262.73 L113.26,262.27 L114.08,262.71 L114.90,262.59 L115.71,263.16 L116.53,262.34 L117.35,263.06 L118.17,263.20 L118.99,262.94 L119.80,263.02 L120.62,262.40 L121.44,263.20 L122.26,262.71 L123.07,263.18 L123.89,263.14 L124.71,262.39 L125.53,263.02 L126.34,263.16 L127.16,262.30 L127.98,262.59 L128.80,262.99 L129.61,262.40 L130.43,263.14 L131.25,262.52 L132.07,263.06 L132.88,262.39 L133.70,262.76 L134.52,263.18 L135.34,262.47 L136.15,262.53 L136.97,262.77 L137.79,262.59 L138.61,262.31 L139.42,262.46 L140.24,262.44 L141.06,263.21 L141.88,262.96 L142.69,263.18 L143.51,262.46 L144.33,263.07 L145.15,262.41 L145.96,262.83 L146.78,262.93 L147.60,262.66" fill="none" stroke="#000" stroke-width="1.1" stroke-linejoin="round"/>
<path d="M87.80,234.92 L89.00,244.88 L89.70,247.16 L90.40,249.84 L91.15,248.00 L91.90,248.49 L92.65,246.83 L93.40,245.35 L94.15,245.57 L94.90,244.47 L95.65,246.24 L96.40,246.41 L97.15,245.00 L97.90,244.47 L98.65,245.12 L99.40,245.85 L100.15,248.14 L100.90,248.67 L102.30,251.15 L103.07,251.12 L103.83,252.43 L104.60,253.68 L105.33,253.85 L106.07,254.70 L106.80,254.94 L107.55,254.15 L108.30,253.85 L109.03,253.24 L109.77,253.13 L110.50,252.11 L111.27,250.75 L112.03,249.82 L112.80,247.28 L113.55,245.42 L114.30,244.01 L115.25,241.93 L116.20,240.70 L117.10,240.30 L118.00,239.05 L118.90,238.45 L119.80,237.31 L120.55,236.92 L121.30,236.02 L122.30,237.29 L123.50,242.17 L124.70,246.86 L126.00,250.09 L127.20,254.81 L128.10,255.69 L129.00,257.41 L129.90,258.23 L130.80,259.89 L132.10,260.92 L133.30,262.00 L134.04,261.70 L134.78,261.75 L135.52,261.64 L136.26,262.76 L137.00,262.89 L137.70,262.63 L138.40,263.08 L139.10,262.84 L139.80,263.30 L140.50,263.30 L141.20,262.69 L141.90,263.30 L142.60,262.48 L143.30,263.20 L144.00,263.07 L144.70,262.87 L145.40,262.66 L146.10,263.30 L146.80,262.68 L147.50,263.30" fill="none" stroke="#b01070" stroke-width="1.0" stroke-linejoin="round"/>
<path d="M87.30,234.42 L88.50,243.70 L89.20,246.03 L89.90,248.85 L90.65,247.96 L91.40,247.40 L92.15,246.49 L92.90,244.44 L93.65,244.28 L94.40,243.92 L95.15,244.32 L95.90,246.25 L96.65,245.00 L97.40,243.80 L98.15,243.91 L98.90,246.18 L99.65,247.54 L100.40,248.65 L101.80,250.44 L102.57,250.80 L103.33,251.25 L104.10,251.85 L104.83,252.76 L105.57,253.22 L106.30,254.37 L107.05,254.60 L107.80,254.17 L108.53,253.62 L109.27,252.66 L110.00,251.27 L110.77,250.21 L111.53,248.58 L112.30,247.60 L113.05,245.23 L113.80,242.87 L114.75,242.20 L115.70,241.45 L116.60,239.50 L117.50,239.53 L118.40,237.37 L119.30,236.76 L120.05,235.83 L120.80,235.64 L121.80,237.72 L123.00,241.74 L124.20,246.06 L125.50,250.53 L126.70,253.36 L127.60,255.08 L128.50,257.87 L129.40,258.38 L130.30,259.37 L131.60,260.03 L132.80,261.67 L133.54,261.20 L134.28,261.96 L135.02,262.00 L135.76,262.46 L136.50,262.11 L137.20,262.55 L137.90,262.38 L138.60,262.05 L139.30,261.96 L140.00,262.57 L140.70,261.85 L141.40,263.06 L142.10,262.02 L142.80,261.90 L143.50,262.05 L144.20,263.24 L144.90,262.46 L145.60,262.22 L146.30,262.10 L147.00,262.16" fill="none" stroke="#dc1a86" stroke-width="1.7" stroke-linejoin="round"/>
<path d="M88.00,248.27 L89.20,251.89 L89.90,251.58 L90.60,251.23 L91.37,249.83 L92.13,250.09 L92.90,249.31 L93.63,249.44 L94.37,248.95 L95.10,248.55 L95.83,247.13 L96.57,247.98 L97.30,247.78 L98.07,246.86 L98.83,244.72 L99.60,243.89 L100.80,242.26 L101.80,245.85 L102.55,249.19 L103.30,251.34 L104.03,252.09 L104.77,253.36 L105.50,254.08 L106.23,254.10 L106.97,254.34 L107.70,254.84 L108.47,255.26 L109.23,253.99 L110.00,253.65 L110.73,252.56 L111.47,250.76 L112.20,249.86 L112.97,248.26 L113.73,247.24 L114.50,245.12 L115.45,243.50 L116.40,242.85 L117.30,241.91 L118.20,242.09 L119.10,242.37 L120.00,242.14 L120.95,243.63 L121.90,244.61 L122.80,246.88 L123.70,248.09 L124.60,250.44 L125.50,252.05 L126.45,253.75 L127.40,256.81 L128.30,257.23 L129.20,259.75 L130.03,259.47 L130.87,259.87 L131.70,260.78 L132.50,261.97 L133.30,262.67 L134.10,261.71 L134.89,262.47 L135.67,262.56 L136.46,263.07 L137.24,262.30 L138.03,262.82 L138.81,262.70 L139.60,263.30 L140.32,262.71 L141.03,263.30 L141.75,262.85 L142.47,262.80 L143.18,263.30 L143.90,263.30 L144.62,262.80 L145.33,263.30 L146.05,262.86 L146.77,263.30 L147.48,263.30 L148.20,263.30" fill="none" stroke="#3a70cc" stroke-width="1.1" stroke-linejoin="round"/>
<path d="M87.30,247.38 L88.50,250.70 L89.20,250.36 L89.90,249.95 L90.67,250.18 L91.43,248.59 L92.20,249.24 L92.93,247.54 L93.67,247.29 L94.40,246.87 L95.13,247.50 L95.87,246.67 L96.60,246.23 L97.37,245.97 L98.13,244.09 L98.90,243.45 L100.10,242.04 L101.10,246.06 L101.85,248.25 L102.60,250.30 L103.33,250.89 L104.07,251.86 L104.80,252.62 L105.53,254.08 L106.27,254.33 L107.00,254.94 L107.77,253.64 L108.53,253.51 L109.30,253.48 L110.03,251.98 L110.77,250.11 L111.50,249.35 L112.27,248.31 L113.03,245.77 L113.80,244.07 L114.75,242.67 L115.70,241.68 L116.60,241.58 L117.50,240.32 L118.40,240.92 L119.30,241.65 L120.25,242.71 L121.20,243.93 L122.10,245.23 L123.00,247.26 L123.90,248.91 L124.80,251.87 L125.75,253.67 L126.70,254.94 L127.60,257.65 L128.50,257.94 L129.33,258.97 L130.17,260.44 L131.00,260.81 L131.80,261.13 L132.60,261.11 L133.40,261.17 L134.19,261.88 L134.97,261.22 L135.76,261.45 L136.54,261.79 L137.33,261.38 L138.11,261.97 L138.90,262.61 L139.62,262.52 L140.33,262.30 L141.05,262.54 L141.77,262.35 L142.48,261.95 L143.20,262.65 L143.92,262.42 L144.63,262.94 L145.35,263.22 L146.07,262.60 L146.78,262.85 L147.50,263.15" fill="none" stroke="#22a6e2" stroke-width="1.5" stroke-linejoin="round"/>
<rect x="86.60" y="213.10" width="61.50" height="50.20" fill="none" stroke="#555" stroke-width="1.0"/>
<line x1="86.40" y1="213.10" x2="86.40" y2="263.30" stroke="#111" stroke-width="1.3"/>
<line x1="84.80" y1="214.10" x2="86.60" y2="214.10" stroke="#222" stroke-width="0.7"/>
<line x1="84.80" y1="215.85" x2="86.60" y2="215.85" stroke="#222" stroke-width="0.7"/>
<line x1="84.80" y1="217.60" x2="86.60" y2="217.60" stroke="#222" stroke-width="0.7"/>
<line x1="84.80" y1="219.35" x2="86.60" y2="219.35" stroke="#222" stroke-width="0.7"/>
<line x1="84.80" y1="221.10" x2="86.60" y2="221.10" stroke="#222" stroke-width="0.7"/>
<line x1="84.80" y1="222.85" x2="86.60" y2="222.85" stroke="#222" stroke-width="0.7"/>
<line x1="84.80" y1="224.60" x2="86.60" y2="224.60" stroke="#222" stroke-width="0.7"/>
<line x1="84.80" y1="226.35" x2="86.60" y2="226.35" stroke="#222" stroke-width="0.7"/>
<line x1="84.80" y1="228.10" x2="86.60" y2="228.10" stroke="#222" stroke-width="0.7"/>
<line x1="84.80" y1="229.85" x2="86.60" y2="229.85" stroke="#222" stroke-width="0.7"/>
<line x1="84.80" y1="231.60" x2="86.60" y2="231.60" stroke="#222" stroke-width="0.7"/>
<line x1="84.80" y1="233.35" x2="86.60" y2="233.35" stroke="#222" stroke-width="0.7"/>
<line x1="84.80" y1="235.10" x2="86.60" y2="235.10" stroke="#222" stroke-width="0.7"/>
<line x1="84.80" y1="236.85" x2="86.60" y2="236.85" stroke="#222" stroke-width="0.7"/>
<line x1="84.80" y1="238.60" x2="86.60" y2="238.60" stroke="#222" stroke-width="0.7"/>
<line x1="84.80" y1="240.35" x2="86.60" y2="240.35" stroke="#222" stroke-width="0.7"/>
<line x1="84.80" y1="242.10" x2="86.60" y2="242.10" stroke="#222" stroke-width="0.7"/>
<line x1="84.80" y1="243.85" x2="86.60" y2="243.85" stroke="#222" stroke-width="0.7"/>
<line x1="84.80" y1="245.60" x2="86.60" y2="245.60" stroke="#222" stroke-width="0.7"/>
<line x1="84.80" y1="247.35" x2="86.60" y2="247.35" stroke="#222" stroke-width="0.7"/>
<line x1="84.80" y1="249.10" x2="86.60" y2="249.10" stroke="#222" stroke-width="0.7"/>
<line x1="84.80" y1="250.85" x2="86.60" y2="250.85" stroke="#222" stroke-width="0.7"/>
<line x1="84.80" y1="252.60" x2="86.60" y2="252.60" stroke="#222" stroke-width="0.7"/>
<line x1="84.80" y1="254.35" x2="86.60" y2="254.35" stroke="#222" stroke-width="0.7"/>
<line x1="84.80" y1="256.10" x2="86.60" y2="256.10" stroke="#222" stroke-width="0.7"/>
<line x1="84.80" y1="257.85" x2="86.60" y2="257.85" stroke="#222" stroke-width="0.7"/>
<line x1="84.80" y1="259.60" x2="86.60" y2="259.60" stroke="#222" stroke-width="0.7"/>
<line x1="84.80" y1="261.35" x2="86.60" y2="261.35" stroke="#222" stroke-width="0.7"/>
<line x1="84.80" y1="263.10" x2="86.60" y2="263.10" stroke="#222" stroke-width="0.7"/>
<line x1="87.60" y1="263.30" x2="87.60" y2="264.60" stroke="#333" stroke-width="0.6"/>
<line x1="89.50" y1="263.30" x2="89.50" y2="264.60" stroke="#333" stroke-width="0.6"/>
<line x1="91.40" y1="263.30" x2="91.40" y2="264.60" stroke="#333" stroke-width="0.6"/>
<line x1="93.30" y1="263.30" x2="93.30" y2="264.60" stroke="#333" stroke-width="0.6"/>
<line x1="95.20" y1="263.30" x2="95.20" y2="264.60" stroke="#333" stroke-width="0.6"/>
<line x1="97.10" y1="263.30" x2="97.10" y2="264.60" stroke="#333" stroke-width="0.6"/>
<line x1="99.00" y1="263.30" x2="99.00" y2="264.60" stroke="#333" stroke-width="0.6"/>
<line x1="100.90" y1="263.30" x2="100.90" y2="264.60" stroke="#333" stroke-width="0.6"/>
<line x1="102.80" y1="263.30" x2="102.80" y2="264.60" stroke="#333" stroke-width="0.6"/>
<line x1="104.70" y1="263.30" x2="104.70" y2="264.60" stroke="#333" stroke-width="0.6"/>
<line x1="106.60" y1="263.30" x2="106.60" y2="264.60" stroke="#333" stroke-width="0.6"/>
<line x1="108.50" y1="263.30" x2="108.50" y2="264.60" stroke="#333" stroke-width="0.6"/>
<line x1="110.40" y1="263.30" x2="110.40" y2="264.60" stroke="#333" stroke-width="0.6"/>
<line x1="112.30" y1="263.30" x2="112.30" y2="264.60" stroke="#333" stroke-width="0.6"/>
<line x1="114.20" y1="263.30" x2="114.20" y2="264.60" stroke="#333" stroke-width="0.6"/>
<line x1="116.10" y1="263.30" x2="116.10" y2="264.60" stroke="#333" stroke-width="0.6"/>
<line x1="118.00" y1="263.30" x2="118.00" y2="264.60" stroke="#333" stroke-width="0.6"/>
<line x1="119.90" y1="263.30" x2="119.90" y2="264.60" stroke="#333" stroke-width="0.6"/>
<line x1="121.80" y1="263.30" x2="121.80" y2="264.60" stroke="#333" stroke-width="0.6"/>
<line x1="123.70" y1="263.30" x2="123.70" y2="264.60" stroke="#333" stroke-width="0.6"/>
<line x1="125.60" y1="263.30" x2="125.60" y2="264.60" stroke="#333" stroke-width="0.6"/>
<line x1="127.50" y1="263.30" x2="127.50" y2="264.60" stroke="#333" stroke-width="0.6"/>
<line x1="129.40" y1="263.30" x2="129.40" y2="264.60" stroke="#333" stroke-width="0.6"/>
<line x1="131.30" y1="263.30" x2="131.30" y2="264.60" stroke="#333" stroke-width="0.6"/>
<line x1="133.20" y1="263.30" x2="133.20" y2="264.60" stroke="#333" stroke-width="0.6"/>
<line x1="135.10" y1="263.30" x2="135.10" y2="264.60" stroke="#333" stroke-width="0.6"/>
<line x1="137.00" y1="263.30" x2="137.00" y2="264.60" stroke="#333" stroke-width="0.6"/>
<line x1="138.90" y1="263.30" x2="138.90" y2="264.60" stroke="#333" stroke-width="0.6"/>
<line x1="140.80" y1="263.30" x2="140.80" y2="264.60" stroke="#333" stroke-width="0.6"/>
<line x1="142.70" y1="263.30" x2="142.70" y2="264.60" stroke="#333" stroke-width="0.6"/>
<line x1="144.60" y1="263.30" x2="144.60" y2="264.60" stroke="#333" stroke-width="0.6"/>
<line x1="146.50" y1="263.30" x2="146.50" y2="264.60" stroke="#333" stroke-width="0.6"/>
<line x1="86.90" y1="213" x2="86.90" y2="263.3" stroke="#22a6e2" stroke-width="1.3"/>
<text x="166.00" y="205.60" font-size="10" font-weight="bold" textLength="33.00" lengthAdjust="spacingAndGlyphs" >CD40L</text>
<path d="M170.60,262.90 L170.60,230.94 L171.20,230.58 L171.70,230.63 L172.20,230.40 L173.10,225.12 L173.65,224.31 L174.20,223.68 L174.90,229.44 L175.70,233.91 L176.20,235.61 L176.70,237.35 L177.30,239.85 L177.90,241.68 L178.40,243.40 L178.90,245.16 L179.40,246.57 L179.90,247.74 L180.40,248.67 L180.90,250.04 L181.45,251.19 L182.00,252.45 L182.55,253.40 L183.10,254.73 L183.65,255.64 L184.20,255.90 L184.75,256.94 L185.30,257.76 L185.80,258.04 L186.30,258.59 L186.80,259.34 L187.30,259.38 L187.80,260.12 L188.30,260.45 L188.83,260.92 L189.36,261.18 L189.89,261.21 L190.41,261.24 L190.94,261.63 L191.47,261.82 L192.00,262.08 L192.50,262.06 L193.00,262.17 L193.50,262.30 L194.00,262.25 L194.50,262.27 L195.00,262.51 L195.50,262.32 L196.00,262.54 L196.50,262.50 L197.00,262.69 L197.00,262.90 Z" fill="#5a0ade"/>
<path d="M170.85,230.70 L171.45,231.88 L171.95,230.52 L172.45,229.69 L173.35,224.84 L173.90,224.29 L174.45,222.92 L175.15,229.47 L175.95,233.97 L176.45,236.27 L176.95,237.56 L177.55,239.67 L178.15,241.86 L178.65,244.15 L179.15,245.94 L179.65,246.74 L180.15,247.48 L180.65,249.65 L181.15,250.23 L181.70,251.06 L182.25,252.06 L182.80,254.22 L183.35,255.40 L183.90,255.86 L184.45,256.35 L185.00,257.25 L185.55,257.46 L186.05,259.14 L186.55,258.67 L187.05,259.62 L187.55,260.41 L188.05,260.91 L188.55,260.85 L189.08,260.77 L189.61,261.38 L190.14,260.90 L190.66,262.23 L191.19,261.67 L191.72,262.66 L192.25,261.93 L192.75,262.16 L193.25,262.03 L193.75,262.36 L194.25,262.04 L194.75,261.80 L195.25,262.90 L195.75,262.37 L196.25,262.37 L196.75,262.52 L197.25,262.87" fill="none" stroke="#160630" stroke-width="1.2" stroke-linejoin="round"/>
<path d="M170.70,262.33 L171.51,262.53 L172.33,262.55 L173.14,262.25 L173.95,262.82 L174.77,262.74 L175.58,261.94 L176.39,262.71 L177.21,262.78 L178.02,262.66 L178.84,262.01 L179.65,262.70 L180.46,262.50 L181.28,261.88 L182.09,261.87 L182.90,262.81 L183.72,262.51 L184.53,262.10 L185.34,261.95 L186.16,261.99 L186.97,262.08 L187.78,262.62 L188.60,262.19 L189.41,261.99 L190.22,262.74 L191.04,262.62 L191.85,262.00 L192.66,262.72 L193.48,262.43 L194.29,262.60 L195.11,262.49 L195.92,262.71 L196.73,262.60 L197.55,262.65 L198.36,262.01 L199.17,262.50 L199.99,262.33 L200.80,262.54 L201.61,262.24 L202.43,262.69 L203.24,262.36 L204.05,262.08 L204.87,262.05 L205.68,261.96 L206.49,262.31 L207.31,261.88 L208.12,262.29 L208.94,261.97 L209.75,262.32 L210.56,262.33 L211.38,262.37 L212.19,262.70 L213.00,261.85 L213.82,262.68 L214.63,262.31 L215.44,262.41 L216.26,262.52 L217.07,262.69 L217.88,262.23 L218.70,262.28 L219.51,262.82 L220.32,261.94 L221.14,262.50 L221.95,262.51 L222.76,261.90 L223.58,262.49 L224.39,262.56 L225.21,262.81 L226.02,262.21 L226.83,262.87 L227.65,262.40 L228.46,262.38 L229.27,262.79 L230.09,261.93 L230.90,262.62" fill="none" stroke="#000" stroke-width="1.1" stroke-linejoin="round"/>
<path d="M175.40,233.08 L176.17,234.41 L176.93,236.87 L177.70,237.91 L178.43,240.30 L179.17,242.60 L179.90,245.18 L180.63,246.13 L181.37,248.18 L182.10,249.89 L182.83,251.58 L183.57,253.46 L184.30,254.21 L185.07,255.93 L185.83,256.30 L186.60,257.41 L187.33,257.85 L188.07,258.94 L188.80,260.36 L189.54,260.34 L190.28,260.95 L191.02,260.72 L191.76,261.12 L192.50,261.52 L193.21,262.06 L193.93,262.27 L194.64,262.63 L195.36,261.73 L196.07,262.83 L196.79,262.90 L197.50,262.86 L198.20,262.21 L198.90,262.60 L199.60,262.23 L200.30,262.53 L201.00,262.90 L201.70,262.90 L202.40,262.90 L203.10,262.90 L203.80,262.90 L204.50,262.90" fill="none" stroke="#b01070" stroke-width="1.0" stroke-linejoin="round"/>
<path d="M174.90,232.46 L175.67,234.21 L176.43,236.04 L177.20,237.63 L177.93,239.99 L178.67,241.56 L179.40,244.43 L180.13,245.87 L180.87,248.03 L181.60,248.84 L182.33,250.45 L183.07,251.75 L183.80,254.28 L184.57,255.45 L185.33,256.05 L186.10,256.62 L186.83,258.02 L187.57,258.73 L188.30,259.19 L189.04,259.18 L189.78,259.66 L190.52,260.25 L191.26,260.53 L192.00,261.10 L192.71,261.54 L193.43,262.09 L194.14,261.01 L194.86,261.87 L195.57,261.27 L196.29,261.52 L197.00,262.63 L197.70,262.35 L198.40,262.87 L199.10,262.25 L199.80,261.68 L200.50,262.24 L201.20,262.57 L201.90,262.90 L202.60,262.90 L203.30,262.53 L204.00,262.48" fill="none" stroke="#dc1a86" stroke-width="1.7" stroke-linejoin="round"/>
<path d="M171.20,244.44 L171.90,244.10 L172.60,242.40 L173.35,241.16 L174.10,239.82 L174.85,240.21 L175.60,241.56 L176.35,241.87 L177.10,244.15 L177.85,244.42 L178.60,247.02 L179.33,247.21 L180.07,248.29 L180.80,250.51 L181.57,250.84 L182.33,252.53 L183.10,252.76 L183.83,253.57 L184.57,255.58 L185.30,256.50 L186.03,257.66 L186.77,258.45 L187.50,258.52 L188.25,259.86 L189.00,260.54 L189.75,260.77 L190.50,262.01 L191.24,261.20 L191.98,262.33 L192.72,262.12 L193.46,261.28 L194.20,261.42 L194.93,262.31 L195.67,262.54 L196.40,261.51 L197.12,261.95 L197.83,262.65 L198.55,261.98 L199.27,262.90 L199.98,262.66 L200.70,262.18 L201.40,262.63 L202.11,262.90 L202.81,262.75 L203.52,262.90 L204.22,262.36 L204.93,262.90 L205.63,262.69 L206.34,262.90 L207.04,262.90 L207.75,262.80 L208.45,262.77 L209.15,262.90 L209.86,262.90 L210.56,262.90 L211.27,262.90 L211.97,262.69 L212.68,262.38 L213.38,262.90 L214.09,262.90 L214.79,262.90 L215.50,262.80 L216.20,262.90 L216.90,262.90 L217.61,262.90 L218.31,262.90 L219.02,262.83 L219.72,262.90 L220.43,262.90 L221.13,262.90 L221.84,262.90 L222.54,262.90 L223.25,262.90 L223.95,262.90 L224.65,262.88 L225.36,262.50 L226.06,262.88 L226.77,262.90 L227.47,262.90 L228.18,262.90 L228.88,262.90 L229.59,262.63 L230.29,262.90 L231.00,262.90 L231.70,262.90" fill="none" stroke="#3a70cc" stroke-width="1.1" stroke-linejoin="round"/>
<path d="M170.50,244.30 L171.20,242.78 L171.90,242.49 L172.65,241.28 L173.40,239.96 L174.15,240.68 L174.90,240.29 L175.65,241.02 L176.40,242.78 L177.15,244.62 L177.90,245.28 L178.63,247.28 L179.37,248.77 L180.10,249.03 L180.87,250.55 L181.63,251.65 L182.40,252.35 L183.13,252.99 L183.87,254.06 L184.60,255.75 L185.33,256.77 L186.07,257.28 L186.80,257.72 L187.55,259.30 L188.30,259.83 L189.05,259.65 L189.80,260.71 L190.54,261.30 L191.28,261.42 L192.02,261.05 L192.76,261.13 L193.50,261.43 L194.23,260.86 L194.97,260.87 L195.70,260.85 L196.42,261.70 L197.13,261.34 L197.85,261.74 L198.57,261.63 L199.28,261.91 L200.00,261.51 L200.70,261.37 L201.41,262.72 L202.11,261.86 L202.82,261.49 L203.52,262.24 L204.23,262.47 L204.93,261.60 L205.64,262.23 L206.34,261.89 L207.05,262.14 L207.75,261.45 L208.45,261.48 L209.16,262.83 L209.86,262.67 L210.57,262.15 L211.27,262.28 L211.98,261.86 L212.68,262.60 L213.39,262.11 L214.09,262.85 L214.80,262.61 L215.50,262.70 L216.20,262.90 L216.91,261.93 L217.61,261.64 L218.32,261.88 L219.02,261.86 L219.73,261.74 L220.43,261.70 L221.14,262.42 L221.84,262.87 L222.55,262.31 L223.25,262.90 L223.95,262.90 L224.66,261.79 L225.36,262.55 L226.07,262.28 L226.77,261.90 L227.48,262.90 L228.18,262.11 L228.89,262.56 L229.59,262.67 L230.30,262.90 L231.00,262.74" fill="none" stroke="#22a6e2" stroke-width="1.5" stroke-linejoin="round"/>
<rect x="170.20" y="213.10" width="61.20" height="49.80" fill="none" stroke="#555" stroke-width="1.0"/>
<line x1="170.00" y1="213.10" x2="170.00" y2="262.90" stroke="#111" stroke-width="1.3"/>
<line x1="168.40" y1="214.10" x2="170.20" y2="214.10" stroke="#222" stroke-width="0.7"/>
<line x1="168.40" y1="215.85" x2="170.20" y2="215.85" stroke="#222" stroke-width="0.7"/>
<line x1="168.40" y1="217.60" x2="170.20" y2="217.60" stroke="#222" stroke-width="0.7"/>
<line x1="168.40" y1="219.35" x2="170.20" y2="219.35" stroke="#222" stroke-width="0.7"/>
<line x1="168.40" y1="221.10" x2="170.20" y2="221.10" stroke="#222" stroke-width="0.7"/>
<line x1="168.40" y1="222.85" x2="170.20" y2="222.85" stroke="#222" stroke-width="0.7"/>
<line x1="168.40" y1="224.60" x2="170.20" y2="224.60" stroke="#222" stroke-width="0.7"/>
<line x1="168.40" y1="226.35" x2="170.20" y2="226.35" stroke="#222" stroke-width="0.7"/>
<line x1="168.40" y1="228.10" x2="170.20" y2="228.10" stroke="#222" stroke-width="0.7"/>
<line x1="168.40" y1="229.85" x2="170.20" y2="229.85" stroke="#222" stroke-width="0.7"/>
<line x1="168.40" y1="231.60" x2="170.20" y2="231.60" stroke="#222" stroke-width="0.7"/>
<line x1="168.40" y1="233.35" x2="170.20" y2="233.35" stroke="#222" stroke-width="0.7"/>
<line x1="168.40" y1="235.10" x2="170.20" y2="235.10" stroke="#222" stroke-width="0.7"/>
<line x1="168.40" y1="236.85" x2="170.20" y2="236.85" stroke="#222" stroke-width="0.7"/>
<line x1="168.40" y1="238.60" x2="170.20" y2="238.60" stroke="#222" stroke-width="0.7"/>
<line x1="168.40" y1="240.35" x2="170.20" y2="240.35" stroke="#222" stroke-width="0.7"/>
<line x1="168.40" y1="242.10" x2="170.20" y2="242.10" stroke="#222" stroke-width="0.7"/>
<line x1="168.40" y1="243.85" x2="170.20" y2="243.85" stroke="#222" stroke-width="0.7"/>
<line x1="168.40" y1="245.60" x2="170.20" y2="245.60" stroke="#222" stroke-width="0.7"/>
<line x1="168.40" y1="247.35" x2="170.20" y2="247.35" stroke="#222" stroke-width="0.7"/>
<line x1="168.40" y1="249.10" x2="170.20" y2="249.10" stroke="#222" stroke-width="0.7"/>
<line x1="168.40" y1="250.85" x2="170.20" y2="250.85" stroke="#222" stroke-width="0.7"/>
<line x1="168.40" y1="252.60" x2="170.20" y2="252.60" stroke="#222" stroke-width="0.7"/>
<line x1="168.40" y1="254.35" x2="170.20" y2="254.35" stroke="#222" stroke-width="0.7"/>
<line x1="168.40" y1="256.10" x2="170.20" y2="256.10" stroke="#222" stroke-width="0.7"/>
<line x1="168.40" y1="257.85" x2="170.20" y2="257.85" stroke="#222" stroke-width="0.7"/>
<line x1="168.40" y1="259.60" x2="170.20" y2="259.60" stroke="#222" stroke-width="0.7"/>
<line x1="168.40" y1="261.35" x2="170.20" y2="261.35" stroke="#222" stroke-width="0.7"/>
<line x1="171.20" y1="262.90" x2="171.20" y2="264.20" stroke="#333" stroke-width="0.6"/>
<line x1="173.10" y1="262.90" x2="173.10" y2="264.20" stroke="#333" stroke-width="0.6"/>
<line x1="175.00" y1="262.90" x2="175.00" y2="264.20" stroke="#333" stroke-width="0.6"/>
<line x1="176.90" y1="262.90" x2="176.90" y2="264.20" stroke="#333" stroke-width="0.6"/>
<line x1="178.80" y1="262.90" x2="178.80" y2="264.20" stroke="#333" stroke-width="0.6"/>
<line x1="180.70" y1="262.90" x2="180.70" y2="264.20" stroke="#333" stroke-width="0.6"/>
<line x1="182.60" y1="262.90" x2="182.60" y2="264.20" stroke="#333" stroke-width="0.6"/>
<line x1="184.50" y1="262.90" x2="184.50" y2="264.20" stroke="#333" stroke-width="0.6"/>
<line x1="186.40" y1="262.90" x2="186.40" y2="264.20" stroke="#333" stroke-width="0.6"/>
<line x1="188.30" y1="262.90" x2="188.30" y2="264.20" stroke="#333" stroke-width="0.6"/>
<line x1="190.20" y1="262.90" x2="190.20" y2="264.20" stroke="#333" stroke-width="0.6"/>
<line x1="192.10" y1="262.90" x2="192.10" y2="264.20" stroke="#333" stroke-width="0.6"/>
<line x1="194.00" y1="262.90" x2="194.00" y2="264.20" stroke="#333" stroke-width="0.6"/>
<line x1="195.90" y1="262.90" x2="195.90" y2="264.20" stroke="#333" stroke-width="0.6"/>
<line x1="197.80" y1="262.90" x2="197.80" y2="264.20" stroke="#333" stroke-width="0.6"/>
<line x1="199.70" y1="262.90" x2="199.70" y2="264.20" stroke="#333" stroke-width="0.6"/>
<line x1="201.60" y1="262.90" x2="201.60" y2="264.20" stroke="#333" stroke-width="0.6"/>
<line x1="203.50" y1="262.90" x2="203.50" y2="264.20" stroke="#333" stroke-width="0.6"/>
<line x1="205.40" y1="262.90" x2="205.40" y2="264.20" stroke="#333" stroke-width="0.6"/>
<line x1="207.30" y1="262.90" x2="207.30" y2="264.20" stroke="#333" stroke-width="0.6"/>
<line x1="209.20" y1="262.90" x2="209.20" y2="264.20" stroke="#333" stroke-width="0.6"/>
<line x1="211.10" y1="262.90" x2="211.10" y2="264.20" stroke="#333" stroke-width="0.6"/>
<line x1="213.00" y1="262.90" x2="213.00" y2="264.20" stroke="#333" stroke-width="0.6"/>
<line x1="214.90" y1="262.90" x2="214.90" y2="264.20" stroke="#333" stroke-width="0.6"/>
<line x1="216.80" y1="262.90" x2="216.80" y2="264.20" stroke="#333" stroke-width="0.6"/>
<line x1="218.70" y1="262.90" x2="218.70" y2="264.20" stroke="#333" stroke-width="0.6"/>
<line x1="220.60" y1="262.90" x2="220.60" y2="264.20" stroke="#333" stroke-width="0.6"/>
<line x1="222.50" y1="262.90" x2="222.50" y2="264.20" stroke="#333" stroke-width="0.6"/>
<line x1="224.40" y1="262.90" x2="224.40" y2="264.20" stroke="#333" stroke-width="0.6"/>
<line x1="226.30" y1="262.90" x2="226.30" y2="264.20" stroke="#333" stroke-width="0.6"/>
<line x1="228.20" y1="262.90" x2="228.20" y2="264.20" stroke="#333" stroke-width="0.6"/>
<line x1="230.10" y1="262.90" x2="230.10" y2="264.20" stroke="#333" stroke-width="0.6"/>
<line x1="170.50" y1="213" x2="170.50" y2="262.9" stroke="#22a6e2" stroke-width="1.3"/>
<text x="6.00" y="287.60" font-size="10" font-weight="bold" textLength="26.50" lengthAdjust="spacingAndGlyphs" >CD44</text>
<path d="M6.60,346.20 L6.60,305.91 L7.20,310.96 L7.85,309.73 L8.50,309.37 L9.05,307.89 L9.60,305.78 L10.15,305.23 L10.70,305.00 L11.20,309.48 L11.70,314.32 L12.25,317.47 L12.80,320.57 L13.33,321.80 L13.87,324.26 L14.40,326.07 L14.93,327.88 L15.47,330.02 L16.00,331.14 L16.60,332.42 L17.20,334.10 L17.80,335.45 L18.40,336.44 L19.00,336.95 L19.60,337.97 L20.20,338.88 L20.80,339.25 L21.40,339.99 L22.00,340.56 L22.60,341.09 L23.20,341.89 L23.72,342.13 L24.23,342.57 L24.75,342.93 L25.27,343.58 L25.78,343.69 L26.30,344.39 L26.83,344.39 L27.37,344.55 L27.90,345.11 L28.43,345.06 L28.97,345.54 L29.50,345.73 L29.50,346.20 Z" fill="#5a0ade"/>
<path d="M6.85,306.92 L7.45,310.72 L8.10,310.22 L8.75,308.66 L9.30,308.49 L9.85,306.85 L10.40,306.11 L10.95,305.42 L11.45,309.64 L11.95,314.82 L12.50,317.41 L13.05,320.81 L13.58,321.90 L14.12,323.89 L14.65,325.49 L15.18,328.41 L15.72,330.02 L16.25,331.23 L16.85,333.59 L17.45,333.83 L18.05,335.26 L18.65,336.05 L19.25,337.03 L19.85,338.74 L20.45,338.74 L21.05,339.27 L21.65,340.39 L22.25,340.71 L22.85,342.25 L23.45,341.58 L23.97,343.37 L24.48,342.29 L25.00,344.03 L25.52,344.07 L26.03,343.74 L26.55,344.56 L27.08,344.47 L27.62,344.65 L28.15,344.77 L28.68,345.25 L29.22,346.20 L29.75,346.20" fill="none" stroke="#160630" stroke-width="1.2" stroke-linejoin="round"/>
<path d="M6.90,346.13 L7.72,345.29 L8.54,345.48 L9.36,346.09 L10.18,345.25 L11.00,345.91 L11.82,345.48 L12.64,346.16 L13.46,345.19 L14.28,345.98 L15.10,345.51 L15.92,345.31 L16.74,345.17 L17.56,346.00 L18.38,345.69 L19.20,345.35 L20.02,345.59 L20.84,346.07 L21.66,345.37 L22.49,345.72 L23.31,345.28 L24.13,345.32 L24.95,345.91 L25.77,345.85 L26.59,345.33 L27.41,345.21 L28.23,345.22 L29.05,345.74 L29.87,345.62 L30.69,345.40 L31.51,345.32 L32.33,345.73 L33.15,345.82 L33.97,345.92 L34.79,345.69 L35.61,345.31 L36.43,345.17 L37.25,345.83 L38.07,345.51 L38.89,345.83 L39.71,345.16 L40.53,345.92 L41.35,345.45 L42.17,345.96 L42.99,345.98 L43.81,345.61 L44.63,345.14 L45.45,346.04 L46.27,345.61 L47.09,346.00 L47.91,345.40 L48.73,345.32 L49.55,345.97 L50.37,345.51 L51.19,345.31 L52.01,345.52 L52.84,345.75 L53.66,345.16 L54.48,345.68 L55.30,345.61 L56.12,345.68 L56.94,345.29 L57.76,345.88 L58.58,345.99 L59.40,346.04 L60.22,345.50 L61.04,345.89 L61.86,345.56 L62.68,345.94 L63.50,345.25 L64.32,346.06 L65.14,346.15 L65.96,345.69 L66.78,345.71 L67.60,345.73" fill="none" stroke="#000" stroke-width="1.1" stroke-linejoin="round"/>
<path d="M49.30,333.52 L50.10,329.71 L51.00,328.28 L51.60,327.13 L52.20,328.81 L53.20,332.76" fill="none" stroke="#dc1a86" stroke-width="1.5" stroke-linejoin="round"/>
<path d="M7.70,345.75 L8.43,346.20 L9.15,345.39 L9.88,345.45 L10.61,346.20 L11.34,345.54 L12.06,345.26 L12.79,346.05 L13.52,345.99 L14.25,345.89 L14.97,346.11 L15.70,345.24 L16.41,346.20 L17.13,346.05 L17.84,345.08 L18.56,345.16 L19.27,345.65 L19.99,345.63 L20.70,345.29 L21.50,345.01 L22.30,345.35 L23.10,344.91 L23.90,345.49 L24.70,345.81 L25.43,344.81 L26.17,345.40 L26.90,345.65 L27.80,343.83 L28.70,343.76 L29.70,342.56 L30.70,340.44 L31.90,336.69 L33.00,331.88 L34.10,323.84 L35.10,315.75 L35.90,309.42 L36.60,302.49 L37.20,297.57 L37.70,295.04 L38.47,295.17 L39.23,295.31 L40.00,296.07 L40.77,295.83 L41.53,295.98 L42.30,295.84 L43.07,295.89 L43.83,294.77 L44.60,295.42 L45.40,302.74 L46.10,309.41 L46.90,315.55 L47.70,322.69 L48.50,328.59 L49.30,332.11 L50.00,334.54 L50.80,334.30 L51.60,335.21 L52.70,334.81 L53.90,334.33 L54.65,336.55 L55.40,339.76 L56.17,341.02 L56.93,342.78 L57.70,343.89 L58.48,344.73 L59.25,345.44 L60.03,346.04 L60.80,345.45 L61.52,346.20 L62.24,345.83 L62.95,346.20 L63.67,345.89 L64.39,346.20 L65.11,346.20 L65.83,346.20 L66.55,345.97 L67.26,346.20 L67.98,346.20 L68.70,346.20" fill="none" stroke="#3a70cc" stroke-width="1.1" stroke-linejoin="round"/>
<path d="M7.00,345.00 L7.73,345.00 L8.45,345.45 L9.18,344.69 L9.91,345.32 L10.64,345.80 L11.36,345.16 L12.09,344.78 L12.82,345.03 L13.55,345.10 L14.27,344.54 L15.00,344.47 L15.71,344.46 L16.43,344.65 L17.14,344.78 L17.86,344.59 L18.57,344.50 L19.29,344.25 L20.00,344.86 L20.80,345.22 L21.60,344.83 L22.40,344.72 L23.20,344.77 L24.00,344.08 L24.73,344.79 L25.47,344.45 L26.20,344.57 L27.10,343.66 L28.00,342.46 L29.00,340.88 L30.00,339.44 L31.20,335.61 L32.30,330.62 L33.40,322.84 L34.40,315.22 L35.20,307.32 L35.90,301.09 L36.50,297.51 L37.00,294.23 L37.77,294.68 L38.53,294.59 L39.30,294.30 L40.07,295.28 L40.83,294.31 L41.60,294.98 L42.37,294.12 L43.13,293.99 L43.90,295.12 L44.70,301.22 L45.40,307.39 L46.20,314.94 L47.00,321.92 L47.80,327.93 L48.60,330.95 L49.30,333.32 L50.10,334.74 L50.90,334.83 L52.00,333.52 L53.20,333.97 L53.95,336.04 L54.70,338.55 L55.47,340.00 L56.23,341.86 L57.00,343.35 L57.77,343.52 L58.55,344.43 L59.33,345.04 L60.10,345.66 L60.82,345.29 L61.54,345.75 L62.25,345.67 L62.97,345.99 L63.69,344.91 L64.41,345.98 L65.13,344.80 L65.85,345.89 L66.56,345.67 L67.28,345.57 L68.00,346.20" fill="none" stroke="#22a6e2" stroke-width="1.5" stroke-linejoin="round"/>
<rect x="6.40" y="294.80" width="61.70" height="51.40" fill="none" stroke="#555" stroke-width="1.0"/>
<line x1="6.20" y1="294.80" x2="6.20" y2="346.20" stroke="#111" stroke-width="1.3"/>
<line x1="4.60" y1="295.80" x2="6.40" y2="295.80" stroke="#222" stroke-width="0.7"/>
<line x1="4.60" y1="297.55" x2="6.40" y2="297.55" stroke="#222" stroke-width="0.7"/>
<line x1="4.60" y1="299.30" x2="6.40" y2="299.30" stroke="#222" stroke-width="0.7"/>
<line x1="4.60" y1="301.05" x2="6.40" y2="301.05" stroke="#222" stroke-width="0.7"/>
<line x1="4.60" y1="302.80" x2="6.40" y2="302.80" stroke="#222" stroke-width="0.7"/>
<line x1="4.60" y1="304.55" x2="6.40" y2="304.55" stroke="#222" stroke-width="0.7"/>
<line x1="4.60" y1="306.30" x2="6.40" y2="306.30" stroke="#222" stroke-width="0.7"/>
<line x1="4.60" y1="308.05" x2="6.40" y2="308.05" stroke="#222" stroke-width="0.7"/>
<line x1="4.60" y1="309.80" x2="6.40" y2="309.80" stroke="#222" stroke-width="0.7"/>
<line x1="4.60" y1="311.55" x2="6.40" y2="311.55" stroke="#222" stroke-width="0.7"/>
<line x1="4.60" y1="313.30" x2="6.40" y2="313.30" stroke="#222" stroke-width="0.7"/>
<line x1="4.60" y1="315.05" x2="6.40" y2="315.05" stroke="#222" stroke-width="0.7"/>
<line x1="4.60" y1="316.80" x2="6.40" y2="316.80" stroke="#222" stroke-width="0.7"/>
<line x1="4.60" y1="318.55" x2="6.40" y2="318.55" stroke="#222" stroke-width="0.7"/>
<line x1="4.60" y1="320.30" x2="6.40" y2="320.30" stroke="#222" stroke-width="0.7"/>
<line x1="4.60" y1="322.05" x2="6.40" y2="322.05" stroke="#222" stroke-width="0.7"/>
<line x1="4.60" y1="323.80" x2="6.40" y2="323.80" stroke="#222" stroke-width="0.7"/>
<line x1="4.60" y1="325.55" x2="6.40" y2="325.55" stroke="#222" stroke-width="0.7"/>
<line x1="4.60" y1="327.30" x2="6.40" y2="327.30" stroke="#222" stroke-width="0.7"/>
<line x1="4.60" y1="329.05" x2="6.40" y2="329.05" stroke="#222" stroke-width="0.7"/>
<line x1="4.60" y1="330.80" x2="6.40" y2="330.80" stroke="#222" stroke-width="0.7"/>
<line x1="4.60" y1="332.55" x2="6.40" y2="332.55" stroke="#222" stroke-width="0.7"/>
<line x1="4.60" y1="334.30" x2="6.40" y2="334.30" stroke="#222" stroke-width="0.7"/>
<line x1="4.60" y1="336.05" x2="6.40" y2="336.05" stroke="#222" stroke-width="0.7"/>
<line x1="4.60" y1="337.80" x2="6.40" y2="337.80" stroke="#222" stroke-width="0.7"/>
<line x1="4.60" y1="339.55" x2="6.40" y2="339.55" stroke="#222" stroke-width="0.7"/>
<line x1="4.60" y1="341.30" x2="6.40" y2="341.30" stroke="#222" stroke-width="0.7"/>
<line x1="4.60" y1="343.05" x2="6.40" y2="343.05" stroke="#222" stroke-width="0.7"/>
<line x1="4.60" y1="344.80" x2="6.40" y2="344.80" stroke="#222" stroke-width="0.7"/>
<line x1="7.40" y1="346.20" x2="7.40" y2="347.50" stroke="#333" stroke-width="0.6"/>
<line x1="9.30" y1="346.20" x2="9.30" y2="347.50" stroke="#333" stroke-width="0.6"/>
<line x1="11.20" y1="346.20" x2="11.20" y2="347.50" stroke="#333" stroke-width="0.6"/>
<line x1="13.10" y1="346.20" x2="13.10" y2="347.50" stroke="#333" stroke-width="0.6"/>
<line x1="15.00" y1="346.20" x2="15.00" y2="347.50" stroke="#333" stroke-width="0.6"/>
<line x1="16.90" y1="346.20" x2="16.90" y2="347.50" stroke="#333" stroke-width="0.6"/>
<line x1="18.80" y1="346.20" x2="18.80" y2="347.50" stroke="#333" stroke-width="0.6"/>
<line x1="20.70" y1="346.20" x2="20.70" y2="347.50" stroke="#333" stroke-width="0.6"/>
<line x1="22.60" y1="346.20" x2="22.60" y2="347.50" stroke="#333" stroke-width="0.6"/>
<line x1="24.50" y1="346.20" x2="24.50" y2="347.50" stroke="#333" stroke-width="0.6"/>
<line x1="26.40" y1="346.20" x2="26.40" y2="347.50" stroke="#333" stroke-width="0.6"/>
<line x1="28.30" y1="346.20" x2="28.30" y2="347.50" stroke="#333" stroke-width="0.6"/>
<line x1="30.20" y1="346.20" x2="30.20" y2="347.50" stroke="#333" stroke-width="0.6"/>
<line x1="32.10" y1="346.20" x2="32.10" y2="347.50" stroke="#333" stroke-width="0.6"/>
<line x1="34.00" y1="346.20" x2="34.00" y2="347.50" stroke="#333" stroke-width="0.6"/>
<line x1="35.90" y1="346.20" x2="35.90" y2="347.50" stroke="#333" stroke-width="0.6"/>
<line x1="37.80" y1="346.20" x2="37.80" y2="347.50" stroke="#333" stroke-width="0.6"/>
<line x1="39.70" y1="346.20" x2="39.70" y2="347.50" stroke="#333" stroke-width="0.6"/>
<line x1="41.60" y1="346.20" x2="41.60" y2="347.50" stroke="#333" stroke-width="0.6"/>
<line x1="43.50" y1="346.20" x2="43.50" y2="347.50" stroke="#333" stroke-width="0.6"/>
<line x1="45.40" y1="346.20" x2="45.40" y2="347.50" stroke="#333" stroke-width="0.6"/>
<line x1="47.30" y1="346.20" x2="47.30" y2="347.50" stroke="#333" stroke-width="0.6"/>
<line x1="49.20" y1="346.20" x2="49.20" y2="347.50" stroke="#333" stroke-width="0.6"/>
<line x1="51.10" y1="346.20" x2="51.10" y2="347.50" stroke="#333" stroke-width="0.6"/>
<line x1="53.00" y1="346.20" x2="53.00" y2="347.50" stroke="#333" stroke-width="0.6"/>
<line x1="54.90" y1="346.20" x2="54.90" y2="347.50" stroke="#333" stroke-width="0.6"/>
<line x1="56.80" y1="346.20" x2="56.80" y2="347.50" stroke="#333" stroke-width="0.6"/>
<line x1="58.70" y1="346.20" x2="58.70" y2="347.50" stroke="#333" stroke-width="0.6"/>
<line x1="60.60" y1="346.20" x2="60.60" y2="347.50" stroke="#333" stroke-width="0.6"/>
<line x1="62.50" y1="346.20" x2="62.50" y2="347.50" stroke="#333" stroke-width="0.6"/>
<line x1="64.40" y1="346.20" x2="64.40" y2="347.50" stroke="#333" stroke-width="0.6"/>
<line x1="66.30" y1="346.20" x2="66.30" y2="347.50" stroke="#333" stroke-width="0.6"/>
<text x="86.00" y="287.60" font-size="10" font-weight="bold" textLength="41.50" lengthAdjust="spacingAndGlyphs" >CD45RO</text>
<path d="M86.80,346.50 L86.80,305.96 L87.35,307.38 L87.90,309.23 L88.40,309.70 L88.90,309.89 L89.55,307.75 L90.20,305.86 L90.90,310.47 L91.70,318.48 L92.35,320.03 L93.00,322.01 L93.50,323.29 L94.00,324.31 L94.53,325.82 L95.07,327.76 L95.60,329.38 L96.10,330.37 L96.60,331.59 L97.10,332.65 L97.63,333.51 L98.17,334.15 L98.70,335.26 L99.20,336.07 L99.70,336.48 L100.20,337.91 L100.78,338.05 L101.35,338.99 L101.92,339.55 L102.50,340.19 L103.02,340.24 L103.53,340.89 L104.05,341.68 L104.57,341.70 L105.08,342.25 L105.60,343.03 L106.12,343.38 L106.63,343.96 L107.15,344.27 L107.67,344.55 L108.18,345.11 L108.70,345.31 L109.24,345.39 L109.78,345.54 L110.31,345.52 L110.85,345.60 L111.39,345.77 L111.92,345.77 L112.46,346.07 L113.00,346.06 L113.00,346.50 Z" fill="#5a0ade"/>
<path d="M87.05,306.24 L87.60,307.11 L88.15,309.10 L88.65,309.54 L89.15,310.20 L89.80,308.27 L90.45,306.81 L91.15,311.54 L91.95,318.58 L92.60,320.40 L93.25,322.60 L93.75,324.34 L94.25,324.45 L94.78,326.31 L95.32,328.34 L95.85,328.87 L96.35,330.38 L96.85,332.70 L97.35,333.72 L97.88,333.99 L98.42,334.11 L98.95,336.13 L99.45,336.60 L99.95,337.61 L100.45,338.68 L101.03,339.10 L101.60,338.92 L102.17,339.08 L102.75,339.86 L103.27,340.74 L103.78,341.24 L104.30,341.25 L104.82,341.76 L105.33,342.99 L105.85,343.47 L106.37,343.45 L106.88,344.86 L107.40,344.67 L107.92,344.10 L108.43,345.07 L108.95,346.06 L109.49,345.38 L110.03,346.08 L110.56,345.07 L111.10,345.64 L111.64,346.50 L112.17,346.26 L112.71,346.48 L113.25,345.81" fill="none" stroke="#160630" stroke-width="1.2" stroke-linejoin="round"/>
<path d="M86.80,346.00 L87.61,346.05 L88.43,345.76 L89.24,346.14 L90.05,346.02 L90.87,346.48 L91.68,346.06 L92.49,345.89 L93.31,345.60 L94.12,345.63 L94.94,346.23 L95.75,345.58 L96.56,345.57 L97.38,345.64 L98.19,345.98 L99.00,346.28 L99.82,346.07 L100.63,346.26 L101.44,345.51 L102.26,345.46 L103.07,346.22 L103.88,345.77 L104.70,346.16 L105.51,345.79 L106.32,345.60 L107.14,345.70 L107.95,345.53 L108.76,346.33 L109.58,346.01 L110.39,345.77 L111.21,345.87 L112.02,345.80 L112.83,345.47 L113.65,346.30 L114.46,345.99 L115.27,346.37 L116.09,345.84 L116.90,346.02 L117.71,345.65 L118.53,345.45 L119.34,346.34 L120.15,346.27 L120.97,345.73 L121.78,346.32 L122.59,346.23 L123.41,345.73 L124.22,346.03 L125.04,346.39 L125.85,345.93 L126.66,346.38 L127.48,345.68 L128.29,345.83 L129.10,346.16 L129.92,345.66 L130.73,345.76 L131.54,346.32 L132.36,345.94 L133.17,346.25 L133.98,345.70 L134.80,345.63 L135.61,345.82 L136.42,345.65 L137.24,346.44 L138.05,345.76 L138.86,346.03 L139.68,345.59 L140.49,346.01 L141.31,345.87 L142.12,345.89 L142.93,345.55 L143.75,345.61 L144.56,346.32 L145.37,345.85 L146.19,345.74 L147.00,345.69" fill="none" stroke="#000" stroke-width="1.1" stroke-linejoin="round"/>
<path d="M101.50,337.90 L102.27,337.03 L103.03,335.95 L103.80,336.03 L104.57,334.04 L105.33,332.25 L106.10,331.49 L107.40,328.33 L108.30,329.28 L109.50,323.97 L110.80,312.18 L112.00,301.82 L113.10,296.17 L113.85,295.83 L114.60,294.62 L115.40,298.59 L116.20,305.31 L117.20,315.63 L118.50,327.24 L119.25,330.04 L120.00,334.93 L120.77,336.37 L121.53,338.05 L122.30,340.43 L123.03,340.85 L123.77,342.52 L124.50,342.77 L125.25,344.28 L126.00,344.47 L126.75,344.79 L127.50,345.24 L128.50,345.75 L129.50,345.20 L130.50,346.50 L131.50,346.07" fill="none" stroke="#b01070" stroke-width="1.0" stroke-linejoin="round"/>
<path d="M101.00,337.62 L101.77,336.86 L102.53,335.68 L103.30,335.58 L104.07,333.51 L104.83,332.35 L105.60,330.69 L106.90,328.04 L107.80,328.85 L109.00,322.32 L110.30,311.65 L111.50,301.79 L112.60,294.85 L113.35,295.03 L114.10,293.95 L114.90,298.29 L115.70,304.21 L116.70,315.20 L118.00,325.72 L118.75,329.24 L119.50,333.44 L120.27,335.38 L121.03,337.31 L121.80,340.20 L122.53,340.46 L123.27,341.50 L124.00,343.07 L124.75,343.51 L125.50,344.29 L126.25,344.88 L127.00,344.49 L128.00,344.69 L129.00,344.34 L130.00,345.75 L131.00,346.23" fill="none" stroke="#dc1a86" stroke-width="1.7" stroke-linejoin="round"/>
<path d="M87.80,345.89 L88.58,345.40 L89.35,345.17 L90.12,344.65 L90.90,343.45 L91.68,343.96 L92.45,342.94 L93.22,343.01 L94.00,342.05 L94.78,341.69 L95.55,342.53 L96.33,342.00 L97.10,341.70 L97.85,340.38 L98.60,340.01 L99.35,339.80 L100.10,339.48 L100.90,339.36 L101.70,339.20 L102.50,338.45 L103.27,338.07 L104.03,337.76 L104.80,336.35 L105.57,336.24 L106.33,334.83 L107.10,334.00 L107.85,331.46 L108.60,329.81 L109.40,326.26 L110.20,321.89 L111.30,310.60 L112.50,300.97 L113.60,296.29 L114.80,295.60 L115.90,301.46 L116.10,308.70 L117.00,319.25 L118.10,329.27 L118.90,333.39 L119.70,337.06 L120.47,339.54 L121.23,340.26 L122.00,342.78 L122.77,343.48 L123.53,343.49 L124.30,345.27 L125.08,345.23 L125.85,346.10 L126.62,346.50 L127.40,346.19 L128.12,345.94 L128.85,346.50 L129.58,346.43 L130.30,346.50 L131.03,346.50 L131.75,346.50 L132.47,346.50 L133.20,346.50 L133.93,346.50 L134.65,345.98 L135.38,346.50 L136.10,346.50 L136.82,346.50 L137.55,346.50 L138.28,346.14 L139.00,346.50 L139.72,346.04 L140.45,346.50 L141.17,346.50 L141.90,346.38 L142.62,346.50 L143.35,346.50 L144.07,346.50 L144.80,346.50 L145.52,346.42 L146.25,346.16 L146.97,346.50 L147.70,346.50" fill="none" stroke="#3a70cc" stroke-width="1.1" stroke-linejoin="round"/>
<path d="M87.10,344.88 L87.88,344.46 L88.65,343.64 L89.42,343.86 L90.20,343.24 L90.97,342.31 L91.75,341.99 L92.53,342.05 L93.30,341.62 L94.08,342.04 L94.85,340.94 L95.62,340.59 L96.40,341.14 L97.15,339.72 L97.90,339.94 L98.65,339.24 L99.40,339.54 L100.20,338.90 L101.00,338.93 L101.80,337.84 L102.57,337.77 L103.33,336.90 L104.10,335.95 L104.87,335.34 L105.63,334.40 L106.40,332.36 L107.15,330.71 L107.90,328.90 L108.70,324.79 L109.50,320.68 L110.60,310.19 L111.80,299.28 L112.90,295.38 L114.10,295.03 L115.20,300.76 L115.40,307.15 L116.30,318.26 L117.40,328.91 L118.20,332.49 L119.00,336.20 L119.77,337.65 L120.53,340.56 L121.30,341.75 L122.07,341.75 L122.83,343.57 L123.60,344.87 L124.38,344.66 L125.15,344.40 L125.92,345.31 L126.70,345.61 L127.42,345.28 L128.15,345.78 L128.88,345.04 L129.60,346.33 L130.32,345.96 L131.05,345.94 L131.78,346.38 L132.50,346.00 L133.22,345.45 L133.95,345.45 L134.68,345.31 L135.40,345.17 L136.12,346.22 L136.85,346.33 L137.57,345.58 L138.30,345.43 L139.03,346.08 L139.75,346.38 L140.47,346.50 L141.20,345.45 L141.93,346.32 L142.65,346.40 L143.38,346.29 L144.10,345.71 L144.82,345.53 L145.55,346.43 L146.28,345.74 L147.00,345.82" fill="none" stroke="#22a6e2" stroke-width="1.5" stroke-linejoin="round"/>
<rect x="86.30" y="294.80" width="61.20" height="51.70" fill="none" stroke="#555" stroke-width="1.0"/>
<line x1="86.10" y1="294.80" x2="86.10" y2="346.50" stroke="#111" stroke-width="1.3"/>
<line x1="84.50" y1="295.80" x2="86.30" y2="295.80" stroke="#222" stroke-width="0.7"/>
<line x1="84.50" y1="297.55" x2="86.30" y2="297.55" stroke="#222" stroke-width="0.7"/>
<line x1="84.50" y1="299.30" x2="86.30" y2="299.30" stroke="#222" stroke-width="0.7"/>
<line x1="84.50" y1="301.05" x2="86.30" y2="301.05" stroke="#222" stroke-width="0.7"/>
<line x1="84.50" y1="302.80" x2="86.30" y2="302.80" stroke="#222" stroke-width="0.7"/>
<line x1="84.50" y1="304.55" x2="86.30" y2="304.55" stroke="#222" stroke-width="0.7"/>
<line x1="84.50" y1="306.30" x2="86.30" y2="306.30" stroke="#222" stroke-width="0.7"/>
<line x1="84.50" y1="308.05" x2="86.30" y2="308.05" stroke="#222" stroke-width="0.7"/>
<line x1="84.50" y1="309.80" x2="86.30" y2="309.80" stroke="#222" stroke-width="0.7"/>
<line x1="84.50" y1="311.55" x2="86.30" y2="311.55" stroke="#222" stroke-width="0.7"/>
<line x1="84.50" y1="313.30" x2="86.30" y2="313.30" stroke="#222" stroke-width="0.7"/>
<line x1="84.50" y1="315.05" x2="86.30" y2="315.05" stroke="#222" stroke-width="0.7"/>
<line x1="84.50" y1="316.80" x2="86.30" y2="316.80" stroke="#222" stroke-width="0.7"/>
<line x1="84.50" y1="318.55" x2="86.30" y2="318.55" stroke="#222" stroke-width="0.7"/>
<line x1="84.50" y1="320.30" x2="86.30" y2="320.30" stroke="#222" stroke-width="0.7"/>
<line x1="84.50" y1="322.05" x2="86.30" y2="322.05" stroke="#222" stroke-width="0.7"/>
<line x1="84.50" y1="323.80" x2="86.30" y2="323.80" stroke="#222" stroke-width="0.7"/>
<line x1="84.50" y1="325.55" x2="86.30" y2="325.55" stroke="#222" stroke-width="0.7"/>
<line x1="84.50" y1="327.30" x2="86.30" y2="327.30" stroke="#222" stroke-width="0.7"/>
<line x1="84.50" y1="329.05" x2="86.30" y2="329.05" stroke="#222" stroke-width="0.7"/>
<line x1="84.50" y1="330.80" x2="86.30" y2="330.80" stroke="#222" stroke-width="0.7"/>
<line x1="84.50" y1="332.55" x2="86.30" y2="332.55" stroke="#222" stroke-width="0.7"/>
<line x1="84.50" y1="334.30" x2="86.30" y2="334.30" stroke="#222" stroke-width="0.7"/>
<line x1="84.50" y1="336.05" x2="86.30" y2="336.05" stroke="#222" stroke-width="0.7"/>
<line x1="84.50" y1="337.80" x2="86.30" y2="337.80" stroke="#222" stroke-width="0.7"/>
<line x1="84.50" y1="339.55" x2="86.30" y2="339.55" stroke="#222" stroke-width="0.7"/>
<line x1="84.50" y1="341.30" x2="86.30" y2="341.30" stroke="#222" stroke-width="0.7"/>
<line x1="84.50" y1="343.05" x2="86.30" y2="343.05" stroke="#222" stroke-width="0.7"/>
<line x1="84.50" y1="344.80" x2="86.30" y2="344.80" stroke="#222" stroke-width="0.7"/>
<line x1="87.30" y1="346.50" x2="87.30" y2="347.80" stroke="#333" stroke-width="0.6"/>
<line x1="89.20" y1="346.50" x2="89.20" y2="347.80" stroke="#333" stroke-width="0.6"/>
<line x1="91.10" y1="346.50" x2="91.10" y2="347.80" stroke="#333" stroke-width="0.6"/>
<line x1="93.00" y1="346.50" x2="93.00" y2="347.80" stroke="#333" stroke-width="0.6"/>
<line x1="94.90" y1="346.50" x2="94.90" y2="347.80" stroke="#333" stroke-width="0.6"/>
<line x1="96.80" y1="346.50" x2="96.80" y2="347.80" stroke="#333" stroke-width="0.6"/>
<line x1="98.70" y1="346.50" x2="98.70" y2="347.80" stroke="#333" stroke-width="0.6"/>
<line x1="100.60" y1="346.50" x2="100.60" y2="347.80" stroke="#333" stroke-width="0.6"/>
<line x1="102.50" y1="346.50" x2="102.50" y2="347.80" stroke="#333" stroke-width="0.6"/>
<line x1="104.40" y1="346.50" x2="104.40" y2="347.80" stroke="#333" stroke-width="0.6"/>
<line x1="106.30" y1="346.50" x2="106.30" y2="347.80" stroke="#333" stroke-width="0.6"/>
<line x1="108.20" y1="346.50" x2="108.20" y2="347.80" stroke="#333" stroke-width="0.6"/>
<line x1="110.10" y1="346.50" x2="110.10" y2="347.80" stroke="#333" stroke-width="0.6"/>
<line x1="112.00" y1="346.50" x2="112.00" y2="347.80" stroke="#333" stroke-width="0.6"/>
<line x1="113.90" y1="346.50" x2="113.90" y2="347.80" stroke="#333" stroke-width="0.6"/>
<line x1="115.80" y1="346.50" x2="115.80" y2="347.80" stroke="#333" stroke-width="0.6"/>
<line x1="117.70" y1="346.50" x2="117.70" y2="347.80" stroke="#333" stroke-width="0.6"/>
<line x1="119.60" y1="346.50" x2="119.60" y2="347.80" stroke="#333" stroke-width="0.6"/>
<line x1="121.50" y1="346.50" x2="121.50" y2="347.80" stroke="#333" stroke-width="0.6"/>
<line x1="123.40" y1="346.50" x2="123.40" y2="347.80" stroke="#333" stroke-width="0.6"/>
<line x1="125.30" y1="346.50" x2="125.30" y2="347.80" stroke="#333" stroke-width="0.6"/>
<line x1="127.20" y1="346.50" x2="127.20" y2="347.80" stroke="#333" stroke-width="0.6"/>
<line x1="129.10" y1="346.50" x2="129.10" y2="347.80" stroke="#333" stroke-width="0.6"/>
<line x1="131.00" y1="346.50" x2="131.00" y2="347.80" stroke="#333" stroke-width="0.6"/>
<line x1="132.90" y1="346.50" x2="132.90" y2="347.80" stroke="#333" stroke-width="0.6"/>
<line x1="134.80" y1="346.50" x2="134.80" y2="347.80" stroke="#333" stroke-width="0.6"/>
<line x1="136.70" y1="346.50" x2="136.70" y2="347.80" stroke="#333" stroke-width="0.6"/>
<line x1="138.60" y1="346.50" x2="138.60" y2="347.80" stroke="#333" stroke-width="0.6"/>
<line x1="140.50" y1="346.50" x2="140.50" y2="347.80" stroke="#333" stroke-width="0.6"/>
<line x1="142.40" y1="346.50" x2="142.40" y2="347.80" stroke="#333" stroke-width="0.6"/>
<line x1="144.30" y1="346.50" x2="144.30" y2="347.80" stroke="#333" stroke-width="0.6"/>
<line x1="146.20" y1="346.50" x2="146.20" y2="347.80" stroke="#333" stroke-width="0.6"/>
<line x1="86.60" y1="318" x2="86.60" y2="346.5" stroke="#22a6e2" stroke-width="1.3"/>
<text x="165.80" y="287.60" font-size="10" font-weight="bold" textLength="32.00" lengthAdjust="spacingAndGlyphs" >CD62L</text>
<path d="M166.10,346.60 L166.10,305.94 L166.90,310.40 L167.60,315.47 L168.13,317.56 L168.67,319.97 L169.20,322.95 L169.70,324.27 L170.20,325.69 L170.70,326.86 L171.23,327.56 L171.77,328.12 L172.30,328.30 L172.80,329.33 L173.30,330.09 L173.80,331.24 L174.38,332.41 L174.95,332.96 L175.53,334.40 L176.10,334.93 L176.68,335.93 L177.25,337.12 L177.82,337.21 L178.40,337.97 L178.92,338.77 L179.43,339.13 L179.95,339.99 L180.47,340.06 L180.98,341.09 L181.50,341.60 L182.02,341.94 L182.53,342.13 L183.05,342.44 L183.57,343.01 L184.08,343.32 L184.60,343.66 L185.12,343.85 L185.64,344.12 L186.17,344.44 L186.69,344.72 L187.21,344.98 L187.73,344.90 L188.26,345.18 L188.78,345.46 L189.30,345.72 L189.82,345.71 L190.34,345.72 L190.87,345.75 L191.39,345.90 L191.91,346.02 L192.43,346.26 L192.96,346.31 L193.48,346.36 L194.00,346.46 L194.00,346.60 Z" fill="#5a0ade"/>
<path d="M166.35,306.94 L167.15,310.99 L167.85,316.00 L168.38,317.36 L168.92,320.92 L169.45,323.37 L169.95,324.14 L170.45,325.85 L170.95,327.72 L171.48,327.50 L172.02,328.30 L172.55,328.28 L173.05,329.38 L173.55,331.28 L174.05,330.94 L174.62,332.15 L175.20,333.89 L175.78,334.47 L176.35,334.84 L176.93,336.53 L177.50,336.85 L178.07,337.95 L178.65,338.47 L179.17,339.16 L179.68,339.74 L180.20,339.98 L180.72,340.05 L181.23,340.67 L181.75,342.32 L182.27,342.16 L182.78,341.85 L183.30,343.43 L183.82,342.84 L184.33,342.97 L184.85,344.05 L185.37,343.82 L185.89,344.43 L186.42,344.75 L186.94,344.45 L187.46,345.23 L187.98,344.71 L188.51,345.58 L189.03,345.92 L189.55,345.33 L190.07,345.92 L190.59,345.45 L191.12,346.10 L191.64,346.60 L192.16,346.41 L192.68,346.60 L193.21,346.60 L193.73,345.92 L194.25,346.60" fill="none" stroke="#160630" stroke-width="1.2" stroke-linejoin="round"/>
<path d="M166.30,346.32 L167.12,345.70 L167.94,346.42 L168.76,345.98 L169.58,345.76 L170.40,346.55 L171.22,346.15 L172.04,346.36 L172.86,345.72 L173.68,346.35 L174.50,345.63 L175.32,345.81 L176.14,345.94 L176.96,345.58 L177.78,346.16 L178.60,345.77 L179.42,345.86 L180.24,346.26 L181.06,345.98 L181.89,346.44 L182.71,346.17 L183.53,346.42 L184.35,346.10 L185.17,346.46 L185.99,346.41 L186.81,345.70 L187.63,346.28 L188.45,345.87 L189.27,346.29 L190.09,346.20 L190.91,346.34 L191.73,345.64 L192.55,345.89 L193.37,346.25 L194.19,346.46 L195.01,346.23 L195.83,345.55 L196.65,346.10 L197.47,345.60 L198.29,346.05 L199.11,346.31 L199.93,345.62 L200.75,346.44 L201.57,346.19 L202.39,345.77 L203.21,345.71 L204.03,345.97 L204.85,346.37 L205.67,346.11 L206.49,345.65 L207.31,345.56 L208.13,345.65 L208.95,346.34 L209.77,345.73 L210.59,346.10 L211.41,345.84 L212.24,346.24 L213.06,345.93 L213.88,345.70 L214.70,346.43 L215.52,346.10 L216.34,346.25 L217.16,346.38 L217.98,346.52 L218.80,345.59 L219.62,345.92 L220.44,345.73 L221.26,346.08 L222.08,346.46 L222.90,346.39 L223.72,345.62 L224.54,345.77 L225.36,346.41 L226.18,346.28 L227.00,345.99" fill="none" stroke="#000" stroke-width="1.1" stroke-linejoin="round"/>
<path d="M166.80,310.57 L167.40,304.52 L168.15,302.78 L168.90,299.45 L170.00,296.22 L170.90,301.26 L172.00,302.01 L173.10,307.76 L174.30,312.30 L175.10,315.15 L175.90,316.62 L176.65,317.41 L177.40,319.14 L178.20,324.11 L178.95,327.30 L179.70,330.51 L180.50,331.79 L181.30,333.30 L182.05,330.91 L182.80,329.81 L183.55,329.82 L184.30,329.73 L185.10,329.08 L185.90,328.55 L186.70,325.96 L187.47,324.80 L188.23,324.24 L189.00,322.38 L189.75,321.23 L190.50,320.40 L191.28,318.14 L192.05,316.65 L192.82,314.66 L193.60,313.34 L194.37,311.82 L195.13,308.91 L195.90,308.08 L196.65,306.48 L197.40,304.72 L198.20,299.98 L199.00,306.69 L199.80,314.39 L200.60,317.41 L201.50,321.29 L202.50,330.01 L203.30,333.22 L204.10,336.41 L204.85,339.15 L205.60,341.73 L206.40,344.32 L207.20,346.24 L207.97,346.21 L208.73,346.60 L209.50,346.59" fill="none" stroke="#b01070" stroke-width="1.0" stroke-linejoin="round"/>
<path d="M166.30,310.07 L166.90,304.27 L167.65,301.08 L168.40,298.77 L169.50,294.85 L170.40,301.18 L171.50,301.97 L172.60,307.21 L173.80,311.74 L174.60,313.63 L175.40,315.69 L176.15,316.94 L176.90,318.31 L177.70,324.22 L178.45,326.68 L179.20,329.72 L180.00,331.45 L180.80,332.62 L181.55,330.54 L182.30,328.49 L183.05,329.17 L183.80,329.53 L184.60,328.85 L185.40,327.34 L186.20,326.61 L186.97,324.48 L187.73,323.99 L188.50,322.22 L189.25,320.36 L190.00,319.35 L190.78,317.99 L191.55,316.63 L192.32,313.82 L193.10,312.48 L193.87,310.43 L194.63,309.48 L195.40,306.79 L196.15,305.48 L196.90,304.16 L197.70,298.69 L198.50,305.56 L199.30,312.93 L200.10,316.53 L201.00,320.68 L202.00,329.29 L202.80,331.71 L203.60,335.06 L204.35,337.88 L205.10,341.54 L205.90,343.86 L206.70,345.51 L207.47,345.18 L208.23,346.23 L209.00,346.60" fill="none" stroke="#dc1a86" stroke-width="1.7" stroke-linejoin="round"/>
<path d="M167.10,320.74 L168.10,320.76 L169.10,322.53 L169.90,320.33 L170.70,317.28 L171.45,318.94 L172.20,320.96 L172.95,323.00 L173.70,325.03 L174.50,326.20 L175.30,328.09 L176.07,328.13 L176.83,329.32 L177.60,330.95 L178.37,332.11 L179.13,333.07 L179.90,334.75 L180.70,335.82 L181.50,336.98 L182.25,336.68 L183.00,335.36 L183.77,335.18 L184.53,333.77 L185.30,332.99 L186.07,332.10 L186.83,330.59 L187.60,329.85 L188.40,327.65 L189.20,327.36 L190.00,325.29 L190.75,324.93 L191.50,322.68 L192.25,322.51 L193.00,321.71 L193.77,320.39 L194.53,319.30 L195.30,318.62 L196.07,317.80 L196.83,317.87 L197.60,316.13 L198.40,315.99 L199.20,314.29 L200.30,318.35 L201.50,323.82 L202.70,329.98 L203.50,333.17 L204.30,336.14 L205.05,338.86 L205.80,342.54 L206.60,343.81 L207.40,346.40 L208.17,346.60 L208.93,346.60 L209.70,346.60 L210.42,346.60 L211.14,346.60 L211.86,346.60 L212.58,346.60 L213.30,346.60 L214.02,346.60 L214.74,346.51 L215.46,346.34 L216.18,346.60 L216.90,346.60 L217.62,346.60 L218.34,346.60 L219.06,346.60 L219.78,346.60 L220.50,346.60 L221.22,346.49 L221.94,346.41 L222.66,346.56 L223.38,346.46 L224.10,346.60 L224.82,346.60 L225.54,346.60 L226.26,346.60 L226.98,346.60 L227.70,346.60" fill="none" stroke="#3a70cc" stroke-width="1.1" stroke-linejoin="round"/>
<path d="M166.40,319.35 L167.40,320.88 L168.40,321.89 L169.20,318.53 L170.00,316.04 L170.75,319.04 L171.50,320.24 L172.25,322.83 L173.00,323.70 L173.80,325.39 L174.60,326.48 L175.37,328.15 L176.13,328.71 L176.90,329.55 L177.67,331.66 L178.43,331.85 L179.20,334.03 L180.00,334.64 L180.80,337.00 L181.55,335.86 L182.30,335.71 L183.07,333.58 L183.83,333.29 L184.60,332.07 L185.37,331.75 L186.13,330.76 L186.90,329.28 L187.70,327.15 L188.50,325.62 L189.30,324.07 L190.05,323.36 L190.80,322.12 L191.55,321.13 L192.30,320.96 L193.07,320.03 L193.83,318.78 L194.60,318.99 L195.37,317.10 L196.13,316.80 L196.90,315.42 L197.70,315.26 L198.50,314.12 L199.60,317.17 L200.80,323.25 L202.00,329.55 L202.80,331.85 L203.60,334.96 L204.35,338.28 L205.10,341.95 L205.90,342.88 L206.70,345.56 L207.47,345.74 L208.23,345.83 L209.00,346.31 L209.72,346.60 L210.44,345.80 L211.16,346.60 L211.88,346.02 L212.60,346.60 L213.32,346.60 L214.04,345.78 L214.76,346.60 L215.48,346.60 L216.20,345.96 L216.92,345.58 L217.64,345.70 L218.36,346.60 L219.08,345.57 L219.80,346.60 L220.52,345.78 L221.24,346.60 L221.96,345.71 L222.68,345.81 L223.40,346.54 L224.12,345.71 L224.84,346.06 L225.56,346.60 L226.28,346.60 L227.00,346.60" fill="none" stroke="#22a6e2" stroke-width="1.5" stroke-linejoin="round"/>
<rect x="165.80" y="294.80" width="61.70" height="51.80" fill="none" stroke="#555" stroke-width="1.0"/>
<line x1="165.60" y1="294.80" x2="165.60" y2="346.60" stroke="#111" stroke-width="1.3"/>
<line x1="164.00" y1="295.80" x2="165.80" y2="295.80" stroke="#222" stroke-width="0.7"/>
<line x1="164.00" y1="297.55" x2="165.80" y2="297.55" stroke="#222" stroke-width="0.7"/>
<line x1="164.00" y1="299.30" x2="165.80" y2="299.30" stroke="#222" stroke-width="0.7"/>
<line x1="164.00" y1="301.05" x2="165.80" y2="301.05" stroke="#222" stroke-width="0.7"/>
<line x1="164.00" y1="302.80" x2="165.80" y2="302.80" stroke="#222" stroke-width="0.7"/>
<line x1="164.00" y1="304.55" x2="165.80" y2="304.55" stroke="#222" stroke-width="0.7"/>
<line x1="164.00" y1="306.30" x2="165.80" y2="306.30" stroke="#222" stroke-width="0.7"/>
<line x1="164.00" y1="308.05" x2="165.80" y2="308.05" stroke="#222" stroke-width="0.7"/>
<line x1="164.00" y1="309.80" x2="165.80" y2="309.80" stroke="#222" stroke-width="0.7"/>
<line x1="164.00" y1="311.55" x2="165.80" y2="311.55" stroke="#222" stroke-width="0.7"/>
<line x1="164.00" y1="313.30" x2="165.80" y2="313.30" stroke="#222" stroke-width="0.7"/>
<line x1="164.00" y1="315.05" x2="165.80" y2="315.05" stroke="#222" stroke-width="0.7"/>
<line x1="164.00" y1="316.80" x2="165.80" y2="316.80" stroke="#222" stroke-width="0.7"/>
<line x1="164.00" y1="318.55" x2="165.80" y2="318.55" stroke="#222" stroke-width="0.7"/>
<line x1="164.00" y1="320.30" x2="165.80" y2="320.30" stroke="#222" stroke-width="0.7"/>
<line x1="164.00" y1="322.05" x2="165.80" y2="322.05" stroke="#222" stroke-width="0.7"/>
<line x1="164.00" y1="323.80" x2="165.80" y2="323.80" stroke="#222" stroke-width="0.7"/>
<line x1="164.00" y1="325.55" x2="165.80" y2="325.55" stroke="#222" stroke-width="0.7"/>
<line x1="164.00" y1="327.30" x2="165.80" y2="327.30" stroke="#222" stroke-width="0.7"/>
<line x1="164.00" y1="329.05" x2="165.80" y2="329.05" stroke="#222" stroke-width="0.7"/>
<line x1="164.00" y1="330.80" x2="165.80" y2="330.80" stroke="#222" stroke-width="0.7"/>
<line x1="164.00" y1="332.55" x2="165.80" y2="332.55" stroke="#222" stroke-width="0.7"/>
<line x1="164.00" y1="334.30" x2="165.80" y2="334.30" stroke="#222" stroke-width="0.7"/>
<line x1="164.00" y1="336.05" x2="165.80" y2="336.05" stroke="#222" stroke-width="0.7"/>
<line x1="164.00" y1="337.80" x2="165.80" y2="337.80" stroke="#222" stroke-width="0.7"/>
<line x1="164.00" y1="339.55" x2="165.80" y2="339.55" stroke="#222" stroke-width="0.7"/>
<line x1="164.00" y1="341.30" x2="165.80" y2="341.30" stroke="#222" stroke-width="0.7"/>
<line x1="164.00" y1="343.05" x2="165.80" y2="343.05" stroke="#222" stroke-width="0.7"/>
<line x1="164.00" y1="344.80" x2="165.80" y2="344.80" stroke="#222" stroke-width="0.7"/>
<line x1="164.00" y1="346.55" x2="165.80" y2="346.55" stroke="#222" stroke-width="0.7"/>
<line x1="166.80" y1="346.60" x2="166.80" y2="347.90" stroke="#333" stroke-width="0.6"/>
<line x1="168.70" y1="346.60" x2="168.70" y2="347.90" stroke="#333" stroke-width="0.6"/>
<line x1="170.60" y1="346.60" x2="170.60" y2="347.90" stroke="#333" stroke-width="0.6"/>
<line x1="172.50" y1="346.60" x2="172.50" y2="347.90" stroke="#333" stroke-width="0.6"/>
<line x1="174.40" y1="346.60" x2="174.40" y2="347.90" stroke="#333" stroke-width="0.6"/>
<line x1="176.30" y1="346.60" x2="176.30" y2="347.90" stroke="#333" stroke-width="0.6"/>
<line x1="178.20" y1="346.60" x2="178.20" y2="347.90" stroke="#333" stroke-width="0.6"/>
<line x1="180.10" y1="346.60" x2="180.10" y2="347.90" stroke="#333" stroke-width="0.6"/>
<line x1="182.00" y1="346.60" x2="182.00" y2="347.90" stroke="#333" stroke-width="0.6"/>
<line x1="183.90" y1="346.60" x2="183.90" y2="347.90" stroke="#333" stroke-width="0.6"/>
<line x1="185.80" y1="346.60" x2="185.80" y2="347.90" stroke="#333" stroke-width="0.6"/>
<line x1="187.70" y1="346.60" x2="187.70" y2="347.90" stroke="#333" stroke-width="0.6"/>
<line x1="189.60" y1="346.60" x2="189.60" y2="347.90" stroke="#333" stroke-width="0.6"/>
<line x1="191.50" y1="346.60" x2="191.50" y2="347.90" stroke="#333" stroke-width="0.6"/>
<line x1="193.40" y1="346.60" x2="193.40" y2="347.90" stroke="#333" stroke-width="0.6"/>
<line x1="195.30" y1="346.60" x2="195.30" y2="347.90" stroke="#333" stroke-width="0.6"/>
<line x1="197.20" y1="346.60" x2="197.20" y2="347.90" stroke="#333" stroke-width="0.6"/>
<line x1="199.10" y1="346.60" x2="199.10" y2="347.90" stroke="#333" stroke-width="0.6"/>
<line x1="201.00" y1="346.60" x2="201.00" y2="347.90" stroke="#333" stroke-width="0.6"/>
<line x1="202.90" y1="346.60" x2="202.90" y2="347.90" stroke="#333" stroke-width="0.6"/>
<line x1="204.80" y1="346.60" x2="204.80" y2="347.90" stroke="#333" stroke-width="0.6"/>
<line x1="206.70" y1="346.60" x2="206.70" y2="347.90" stroke="#333" stroke-width="0.6"/>
<line x1="208.60" y1="346.60" x2="208.60" y2="347.90" stroke="#333" stroke-width="0.6"/>
<line x1="210.50" y1="346.60" x2="210.50" y2="347.90" stroke="#333" stroke-width="0.6"/>
<line x1="212.40" y1="346.60" x2="212.40" y2="347.90" stroke="#333" stroke-width="0.6"/>
<line x1="214.30" y1="346.60" x2="214.30" y2="347.90" stroke="#333" stroke-width="0.6"/>
<line x1="216.20" y1="346.60" x2="216.20" y2="347.90" stroke="#333" stroke-width="0.6"/>
<line x1="218.10" y1="346.60" x2="218.10" y2="347.90" stroke="#333" stroke-width="0.6"/>
<line x1="220.00" y1="346.60" x2="220.00" y2="347.90" stroke="#333" stroke-width="0.6"/>
<line x1="221.90" y1="346.60" x2="221.90" y2="347.90" stroke="#333" stroke-width="0.6"/>
<line x1="223.80" y1="346.60" x2="223.80" y2="347.90" stroke="#333" stroke-width="0.6"/>
<line x1="225.70" y1="346.60" x2="225.70" y2="347.90" stroke="#333" stroke-width="0.6"/>
<line x1="166.10" y1="296" x2="166.10" y2="346.6" stroke="#22a6e2" stroke-width="1.3"/>
<line x1="20" y1="364.3" x2="41.2" y2="364.3" stroke="#dc1a86" stroke-width="1.2"/>
<text x="43.80" y="367.20" font-size="7.5" font-weight="bold" textLength="65.00" lengthAdjust="spacingAndGlyphs" >NY-ESO-1 157-170</text>
<line x1="119.5" y1="364.3" x2="141.2" y2="364.3" stroke="#3fbfd8" stroke-width="1.2"/>
<text x="143.00" y="367.20" font-size="7.5" font-weight="bold" textLength="61.50" lengthAdjust="spacingAndGlyphs" ><tspan font-style="italic">S. typh</tspan>-NY-ESO-1</text>
<text x="247.20" y="11.50" font-size="12.8" font-weight="bold" textLength="10.10" lengthAdjust="spacingAndGlyphs" >B</text>
<text x="266.00" y="36.00" font-size="11.8" font-weight="bold" textLength="36.00" lengthAdjust="spacingAndGlyphs" >NC235</text>
<text x="266.00" y="211.20" font-size="11.8" font-weight="bold" textLength="38.50" lengthAdjust="spacingAndGlyphs" >NW681</text>
<line x1="272.20" y1="104.28" x2="387.30" y2="104.28" stroke="#6a6a6a" stroke-width="0.9"/>
<line x1="272.20" y1="89.06" x2="387.30" y2="89.06" stroke="#6a6a6a" stroke-width="0.9"/>
<line x1="272.20" y1="73.84" x2="387.30" y2="73.84" stroke="#6a6a6a" stroke-width="0.9"/>
<line x1="272.20" y1="58.62" x2="387.30" y2="58.62" stroke="#6a6a6a" stroke-width="0.9"/>
<line x1="272.20" y1="43.40" x2="387.30" y2="43.40" stroke="#6a6a6a" stroke-width="0.9"/>
<line x1="387.30" y1="43.40" x2="387.30" y2="119.50" stroke="#999" stroke-width="0.9"/>
<line x1="272.20" y1="43.40" x2="272.20" y2="119.50" stroke="#666" stroke-width="1"/>
<line x1="272.20" y1="119.50" x2="387.30" y2="119.50" stroke="#666" stroke-width="1"/>
<rect x="280.65" y="65.47" width="11.6" height="54.03" fill="#000"/>
<line x1="286.45" y1="65.47" x2="286.45" y2="63.19" stroke="#444" stroke-width="0.8"/>
<line x1="284.95" y1="63.19" x2="287.95" y2="63.19" stroke="#444" stroke-width="0.8"/>
<rect x="309.47" y="67.75" width="11.6" height="51.75" fill="#000"/>
<line x1="315.27" y1="67.75" x2="315.27" y2="65.47" stroke="#444" stroke-width="0.8"/>
<line x1="313.77" y1="65.47" x2="316.77" y2="65.47" stroke="#444" stroke-width="0.8"/>
<rect x="338.29" y="103.33" width="11.6" height="16.17" fill="#000"/>
<line x1="344.09" y1="103.33" x2="344.09" y2="102.76" stroke="#444" stroke-width="0.8"/>
<line x1="342.59" y1="102.76" x2="345.59" y2="102.76" stroke="#444" stroke-width="0.8"/>
<rect x="367.11" y="104.28" width="11.6" height="15.22" fill="#000"/>
<line x1="372.91" y1="104.28" x2="372.91" y2="103.14" stroke="#444" stroke-width="0.8"/>
<line x1="371.41" y1="103.14" x2="374.41" y2="103.14" stroke="#444" stroke-width="0.8"/>
<text x="267.10" y="121.70" font-size="7.7" font-weight="bold" text-anchor="end" >0</text>
<text x="267.10" y="106.48" font-size="7.7" font-weight="bold" text-anchor="end" >8</text>
<text x="267.10" y="91.26" font-size="7.7" font-weight="bold" text-anchor="end" >16</text>
<text x="267.10" y="76.04" font-size="7.7" font-weight="bold" text-anchor="end" >24</text>
<text x="267.10" y="60.82" font-size="7.7" font-weight="bold" text-anchor="end" >32</text>
<text x="267.10" y="45.60" font-size="7.7" font-weight="bold" text-anchor="end" >40</text>
<rect x="285.45" y="127.80" width="2.0" height="3.3" fill="#000"/>
<text x="318.47" y="122.00" font-size="8.8" font-weight="bold" text-anchor="end" textLength="46.20" lengthAdjust="spacingAndGlyphs" transform="rotate(-90 318.47 122.00)" >Anti-GITRL</text>
<text x="346.99" y="123.70" font-size="8.8" font-weight="bold" text-anchor="end" textLength="19.60" lengthAdjust="spacingAndGlyphs" transform="rotate(-90 346.99 123.70)" >Treg</text>
<text x="371.21" y="122.00" font-size="8.8" font-weight="bold" text-anchor="end" textLength="46.20" lengthAdjust="spacingAndGlyphs" transform="rotate(-90 371.21 122.00)" >Anti-GITRL</text>
<text x="379.01" y="131.40" font-size="8.8" font-weight="bold" text-anchor="end" textLength="26.40" lengthAdjust="spacingAndGlyphs" transform="rotate(-90 379.01 131.40)" >+ Treg</text>
<line x1="404.50" y1="104.14" x2="520.50" y2="104.14" stroke="#6a6a6a" stroke-width="0.9"/>
<line x1="404.50" y1="88.88" x2="520.50" y2="88.88" stroke="#6a6a6a" stroke-width="0.9"/>
<line x1="404.50" y1="73.62" x2="520.50" y2="73.62" stroke="#6a6a6a" stroke-width="0.9"/>
<line x1="404.50" y1="58.36" x2="520.50" y2="58.36" stroke="#6a6a6a" stroke-width="0.9"/>
<line x1="404.50" y1="43.10" x2="520.50" y2="43.10" stroke="#6a6a6a" stroke-width="0.9"/>
<line x1="520.50" y1="43.10" x2="520.50" y2="119.40" stroke="#999" stroke-width="0.9"/>
<line x1="404.50" y1="43.10" x2="404.50" y2="119.40" stroke="#666" stroke-width="1"/>
<line x1="404.50" y1="119.40" x2="520.50" y2="119.40" stroke="#666" stroke-width="1"/>
<rect x="412.99" y="62.37" width="11.2" height="57.03" fill="#fff" stroke="#333" stroke-width="0.9"/>
<line x1="418.59" y1="62.37" x2="418.59" y2="60.84" stroke="#444" stroke-width="0.8"/>
<line x1="417.09" y1="60.84" x2="420.09" y2="60.84" stroke="#444" stroke-width="0.8"/>
<rect x="441.95" y="62.17" width="11.2" height="57.23" fill="#fff" stroke="#333" stroke-width="0.9"/>
<line x1="447.56" y1="62.17" x2="447.56" y2="60.65" stroke="#444" stroke-width="0.8"/>
<line x1="446.06" y1="60.65" x2="449.06" y2="60.65" stroke="#444" stroke-width="0.8"/>
<rect x="470.93" y="76.48" width="11.2" height="42.92" fill="#fff" stroke="#333" stroke-width="0.9"/>
<line x1="476.53" y1="76.48" x2="476.53" y2="75.91" stroke="#444" stroke-width="0.8"/>
<line x1="475.03" y1="75.91" x2="478.03" y2="75.91" stroke="#444" stroke-width="0.8"/>
<rect x="499.89" y="103.38" width="11.2" height="16.02" fill="#fff" stroke="#333" stroke-width="0.9"/>
<line x1="505.50" y1="103.38" x2="505.50" y2="101.66" stroke="#444" stroke-width="0.8"/>
<line x1="504.00" y1="101.66" x2="507.00" y2="101.66" stroke="#444" stroke-width="0.8"/>
<text x="399.40" y="121.60" font-size="7.7" font-weight="bold" text-anchor="end" >0</text>
<text x="399.40" y="106.34" font-size="7.7" font-weight="bold" text-anchor="end" >8</text>
<text x="399.40" y="91.08" font-size="7.7" font-weight="bold" text-anchor="end" >16</text>
<text x="399.40" y="75.82" font-size="7.7" font-weight="bold" text-anchor="end" >24</text>
<text x="399.40" y="60.56" font-size="7.7" font-weight="bold" text-anchor="end" >32</text>
<text x="399.40" y="45.30" font-size="7.7" font-weight="bold" text-anchor="end" >40</text>
<rect x="417.59" y="127.70" width="2.0" height="3.3" fill="#000"/>
<text x="450.75" y="121.90" font-size="8.8" font-weight="bold" text-anchor="end" textLength="46.20" lengthAdjust="spacingAndGlyphs" transform="rotate(-90 450.75 121.90)" >Anti-GITRL</text>
<text x="479.43" y="123.60" font-size="8.8" font-weight="bold" text-anchor="end" textLength="19.60" lengthAdjust="spacingAndGlyphs" transform="rotate(-90 479.43 123.60)" >Treg</text>
<text x="503.80" y="121.90" font-size="8.8" font-weight="bold" text-anchor="end" textLength="46.20" lengthAdjust="spacingAndGlyphs" transform="rotate(-90 503.80 121.90)" >Anti-GITRL</text>
<text x="511.60" y="131.30" font-size="8.8" font-weight="bold" text-anchor="end" textLength="26.40" lengthAdjust="spacingAndGlyphs" transform="rotate(-90 511.60 131.30)" >+ Treg</text>
<line x1="272.30" y1="280.68" x2="387.30" y2="280.68" stroke="#6a6a6a" stroke-width="0.9"/>
<line x1="272.30" y1="265.56" x2="387.30" y2="265.56" stroke="#6a6a6a" stroke-width="0.9"/>
<line x1="272.30" y1="250.44" x2="387.30" y2="250.44" stroke="#6a6a6a" stroke-width="0.9"/>
<line x1="272.30" y1="235.32" x2="387.30" y2="235.32" stroke="#6a6a6a" stroke-width="0.9"/>
<line x1="272.30" y1="220.20" x2="387.30" y2="220.20" stroke="#6a6a6a" stroke-width="0.9"/>
<line x1="387.30" y1="220.20" x2="387.30" y2="295.80" stroke="#999" stroke-width="0.9"/>
<line x1="272.30" y1="220.20" x2="272.30" y2="295.80" stroke="#666" stroke-width="1"/>
<line x1="272.30" y1="295.80" x2="387.30" y2="295.80" stroke="#666" stroke-width="1"/>
<rect x="280.65" y="240.42" width="11.6" height="55.38" fill="#000"/>
<line x1="286.45" y1="240.42" x2="286.45" y2="239.86" stroke="#444" stroke-width="0.8"/>
<line x1="284.95" y1="239.86" x2="287.95" y2="239.86" stroke="#444" stroke-width="0.8"/>
<rect x="309.47" y="245.34" width="11.6" height="50.46" fill="#000"/>
<line x1="315.27" y1="245.34" x2="315.27" y2="244.20" stroke="#444" stroke-width="0.8"/>
<line x1="313.77" y1="244.20" x2="316.77" y2="244.20" stroke="#444" stroke-width="0.8"/>
<rect x="338.29" y="282.00" width="11.6" height="13.80" fill="#000"/>
<line x1="344.09" y1="282.00" x2="344.09" y2="281.06" stroke="#444" stroke-width="0.8"/>
<line x1="342.59" y1="281.06" x2="345.59" y2="281.06" stroke="#444" stroke-width="0.8"/>
<rect x="367.11" y="282.00" width="11.6" height="13.80" fill="#000"/>
<line x1="372.91" y1="282.00" x2="372.91" y2="280.87" stroke="#444" stroke-width="0.8"/>
<line x1="371.41" y1="280.87" x2="374.41" y2="280.87" stroke="#444" stroke-width="0.8"/>
<text x="267.20" y="298.00" font-size="7.7" font-weight="bold" text-anchor="end" >0</text>
<text x="267.20" y="282.88" font-size="7.7" font-weight="bold" text-anchor="end" >8</text>
<text x="267.20" y="267.76" font-size="7.7" font-weight="bold" text-anchor="end" >16</text>
<text x="267.20" y="252.64" font-size="7.7" font-weight="bold" text-anchor="end" >24</text>
<text x="267.20" y="237.52" font-size="7.7" font-weight="bold" text-anchor="end" >32</text>
<text x="267.20" y="222.40" font-size="7.7" font-weight="bold" text-anchor="end" >40</text>
<rect x="285.45" y="304.10" width="2.0" height="3.3" fill="#000"/>
<text x="318.47" y="298.30" font-size="8.8" font-weight="bold" text-anchor="end" textLength="46.20" lengthAdjust="spacingAndGlyphs" transform="rotate(-90 318.47 298.30)" >Anti-GITRL</text>
<text x="346.99" y="300.00" font-size="8.8" font-weight="bold" text-anchor="end" textLength="19.60" lengthAdjust="spacingAndGlyphs" transform="rotate(-90 346.99 300.00)" >Treg</text>
<text x="371.21" y="298.30" font-size="8.8" font-weight="bold" text-anchor="end" textLength="46.20" lengthAdjust="spacingAndGlyphs" transform="rotate(-90 371.21 298.30)" >Anti-GITRL</text>
<text x="379.01" y="307.70" font-size="8.8" font-weight="bold" text-anchor="end" textLength="26.40" lengthAdjust="spacingAndGlyphs" transform="rotate(-90 379.01 307.70)" >+ Treg</text>
<line x1="404.60" y1="281.18" x2="520.50" y2="281.18" stroke="#6a6a6a" stroke-width="0.9"/>
<line x1="404.60" y1="266.06" x2="520.50" y2="266.06" stroke="#6a6a6a" stroke-width="0.9"/>
<line x1="404.60" y1="250.94" x2="520.50" y2="250.94" stroke="#6a6a6a" stroke-width="0.9"/>
<line x1="404.60" y1="235.82" x2="520.50" y2="235.82" stroke="#6a6a6a" stroke-width="0.9"/>
<line x1="404.60" y1="220.70" x2="520.50" y2="220.70" stroke="#6a6a6a" stroke-width="0.9"/>
<line x1="520.50" y1="220.70" x2="520.50" y2="296.30" stroke="#999" stroke-width="0.9"/>
<line x1="404.60" y1="220.70" x2="404.60" y2="296.30" stroke="#666" stroke-width="1"/>
<line x1="404.60" y1="296.30" x2="520.50" y2="296.30" stroke="#666" stroke-width="1"/>
<rect x="412.99" y="241.68" width="11.2" height="54.62" fill="#fff" stroke="#333" stroke-width="0.9"/>
<line x1="418.59" y1="241.68" x2="418.59" y2="241.11" stroke="#444" stroke-width="0.8"/>
<line x1="417.09" y1="241.11" x2="420.09" y2="241.11" stroke="#444" stroke-width="0.8"/>
<rect x="441.95" y="243.38" width="11.2" height="52.92" fill="#fff" stroke="#333" stroke-width="0.9"/>
<line x1="447.56" y1="243.38" x2="447.56" y2="242.62" stroke="#444" stroke-width="0.8"/>
<line x1="446.06" y1="242.62" x2="449.06" y2="242.62" stroke="#444" stroke-width="0.8"/>
<rect x="470.93" y="250.56" width="11.2" height="45.74" fill="#fff" stroke="#333" stroke-width="0.9"/>
<line x1="476.53" y1="250.56" x2="476.53" y2="249.62" stroke="#444" stroke-width="0.8"/>
<line x1="475.03" y1="249.62" x2="478.03" y2="249.62" stroke="#444" stroke-width="0.8"/>
<rect x="499.89" y="280.99" width="11.2" height="15.31" fill="#fff" stroke="#333" stroke-width="0.9"/>
<line x1="505.50" y1="280.99" x2="505.50" y2="279.29" stroke="#444" stroke-width="0.8"/>
<line x1="504.00" y1="279.29" x2="507.00" y2="279.29" stroke="#444" stroke-width="0.8"/>
<text x="399.50" y="298.50" font-size="7.7" font-weight="bold" text-anchor="end" >0</text>
<text x="399.50" y="283.38" font-size="7.7" font-weight="bold" text-anchor="end" >8</text>
<text x="399.50" y="268.26" font-size="7.7" font-weight="bold" text-anchor="end" >16</text>
<text x="399.50" y="253.14" font-size="7.7" font-weight="bold" text-anchor="end" >24</text>
<text x="399.50" y="238.02" font-size="7.7" font-weight="bold" text-anchor="end" >32</text>
<text x="399.50" y="222.90" font-size="7.7" font-weight="bold" text-anchor="end" >40</text>
<rect x="417.59" y="304.60" width="2.0" height="3.3" fill="#000"/>
<text x="450.75" y="298.80" font-size="8.8" font-weight="bold" text-anchor="end" textLength="46.20" lengthAdjust="spacingAndGlyphs" transform="rotate(-90 450.75 298.80)" >Anti-GITRL</text>
<text x="479.43" y="300.50" font-size="8.8" font-weight="bold" text-anchor="end" textLength="19.60" lengthAdjust="spacingAndGlyphs" transform="rotate(-90 479.43 300.50)" >Treg</text>
<text x="503.80" y="298.80" font-size="8.8" font-weight="bold" text-anchor="end" textLength="46.20" lengthAdjust="spacingAndGlyphs" transform="rotate(-90 503.80 298.80)" >Anti-GITRL</text>
<text x="511.60" y="308.20" font-size="8.8" font-weight="bold" text-anchor="end" textLength="26.40" lengthAdjust="spacingAndGlyphs" transform="rotate(-90 511.60 308.20)" >+ Treg</text>
<text x="254.80" y="104.70" font-size="7" font-weight="bold" textLength="39.80" lengthAdjust="spacingAndGlyphs" transform="rotate(-90 254.80 104.70)" >CPM (x10<tspan dy="-2" font-size="5">-3</tspan><tspan dy="2">)</tspan></text>
<text x="254.80" y="281.70" font-size="7" font-weight="bold" textLength="39.20" lengthAdjust="spacingAndGlyphs" transform="rotate(-90 254.80 281.70)" >CPM (x10<tspan dy="-2" font-size="5">-3</tspan><tspan dy="2">)</tspan></text>
<path d="M476.20,38.40 Q476.20,35.40 479.20,35.40 L491.50,35.40 Q493.50,35.40 493.50,33.60 Q493.50,35.40 495.50,35.40 L507.80,35.40 Q510.80,35.40 510.80,38.40" fill="none" stroke="#555" stroke-width="0.8"/>
<polygon points="493.60,27.10 494.37,28.94 496.36,29.10 494.84,30.40 495.30,32.35 493.60,31.30 491.90,32.35 492.36,30.40 490.84,29.10 492.83,28.94" fill="#000"/>
<path d="M476.20,217.50 Q476.20,214.50 479.20,214.50 L491.50,214.50 Q493.50,214.50 493.50,212.70 Q493.50,214.50 495.50,214.50 L507.80,214.50 Q510.80,214.50 510.80,217.50" fill="none" stroke="#555" stroke-width="0.8"/>
<polygon points="493.60,205.50 494.37,207.34 496.36,207.50 494.84,208.80 495.30,210.75 493.60,209.71 491.90,210.75 492.36,208.80 490.84,207.50 492.83,207.34" fill="#000"/>
<text x="246.00" y="148.80" font-size="7.6" font-weight="bold" textLength="24.00" lengthAdjust="spacingAndGlyphs" >In vitro</text>
<text x="241.20" y="157.70" font-size="7.6" font-weight="bold" textLength="33.40" lengthAdjust="spacingAndGlyphs" >treatment</text>
<text x="247.70" y="184.80" font-size="7.6" font-weight="bold" textLength="13.50" lengthAdjust="spacingAndGlyphs" >Pre-</text>
<text x="235.50" y="192.50" font-size="7.6" font-weight="bold" textLength="44.50" lengthAdjust="spacingAndGlyphs" >sensitization</text>
<text x="246.00" y="324.30" font-size="7.6" font-weight="bold" textLength="24.00" lengthAdjust="spacingAndGlyphs" >In vitro</text>
<text x="241.20" y="333.20" font-size="7.6" font-weight="bold" textLength="33.40" lengthAdjust="spacingAndGlyphs" >treatment</text>
<text x="247.70" y="360.30" font-size="7.6" font-weight="bold" textLength="13.50" lengthAdjust="spacingAndGlyphs" >Pre-</text>
<text x="235.50" y="368.00" font-size="7.6" font-weight="bold" textLength="44.50" lengthAdjust="spacingAndGlyphs" >sensitization</text>
<text x="297.40" y="182.00" font-size="7.5" font-weight="bold" textLength="64.40" lengthAdjust="spacingAndGlyphs" >NY-ESO-1 157-170</text>
<text x="309.70" y="192.30" font-size="7.5" font-weight="bold" textLength="39.50" lengthAdjust="spacingAndGlyphs" >CD4<tspan dy="-2.5" font-size="5.2">+</tspan><tspan dy="2.5"> CD25</tspan><tspan dy="-2.5" font-size="4.5">-</tspan></text>
<text x="297.00" y="356.80" font-size="7.5" font-weight="bold" textLength="65.00" lengthAdjust="spacingAndGlyphs" >NY-ESO-1 143-154</text>
<text x="309.50" y="368.00" font-size="7.5" font-weight="bold" textLength="39.50" lengthAdjust="spacingAndGlyphs" >CD4<tspan dy="-2.5" font-size="5.2">+</tspan><tspan dy="2.5"> CD25</tspan><tspan dy="-2.5" font-size="4.5">-</tspan></text>
<text x="433.50" y="182.30" font-size="7.5" font-weight="bold" textLength="62.30" lengthAdjust="spacingAndGlyphs" ><tspan font-style="italic">S. typh</tspan>-NY-ESO-1</text>
<text x="445.00" y="191.50" font-size="7.5" font-weight="bold" textLength="42.70" lengthAdjust="spacingAndGlyphs" >Whole CD4<tspan dy="-2.5" font-size="5.2">+</tspan></text>
<text x="433.20" y="357.00" font-size="7.5" font-weight="bold" textLength="62.80" lengthAdjust="spacingAndGlyphs" ><tspan font-style="italic">S. typh</tspan>-NY-ESO-1</text>
<text x="444.70" y="367.80" font-size="7.5" font-weight="bold" textLength="40.30" lengthAdjust="spacingAndGlyphs" >Whole CD4<tspan dy="-2.5" font-size="5.2">+</tspan></text>
<line x1="272.2" y1="172.2" x2="387.3" y2="172.2" stroke="#555" stroke-width="0.9"/>
<line x1="406.5" y1="172.2" x2="520" y2="172.2" stroke="#555" stroke-width="0.9"/>
<line x1="272.2" y1="347.7" x2="387.3" y2="347.7" stroke="#555" stroke-width="0.9"/>
<line x1="406.5" y1="347.7" x2="520" y2="347.7" stroke="#555" stroke-width="0.9"/>
</g>
</svg></body></html>
